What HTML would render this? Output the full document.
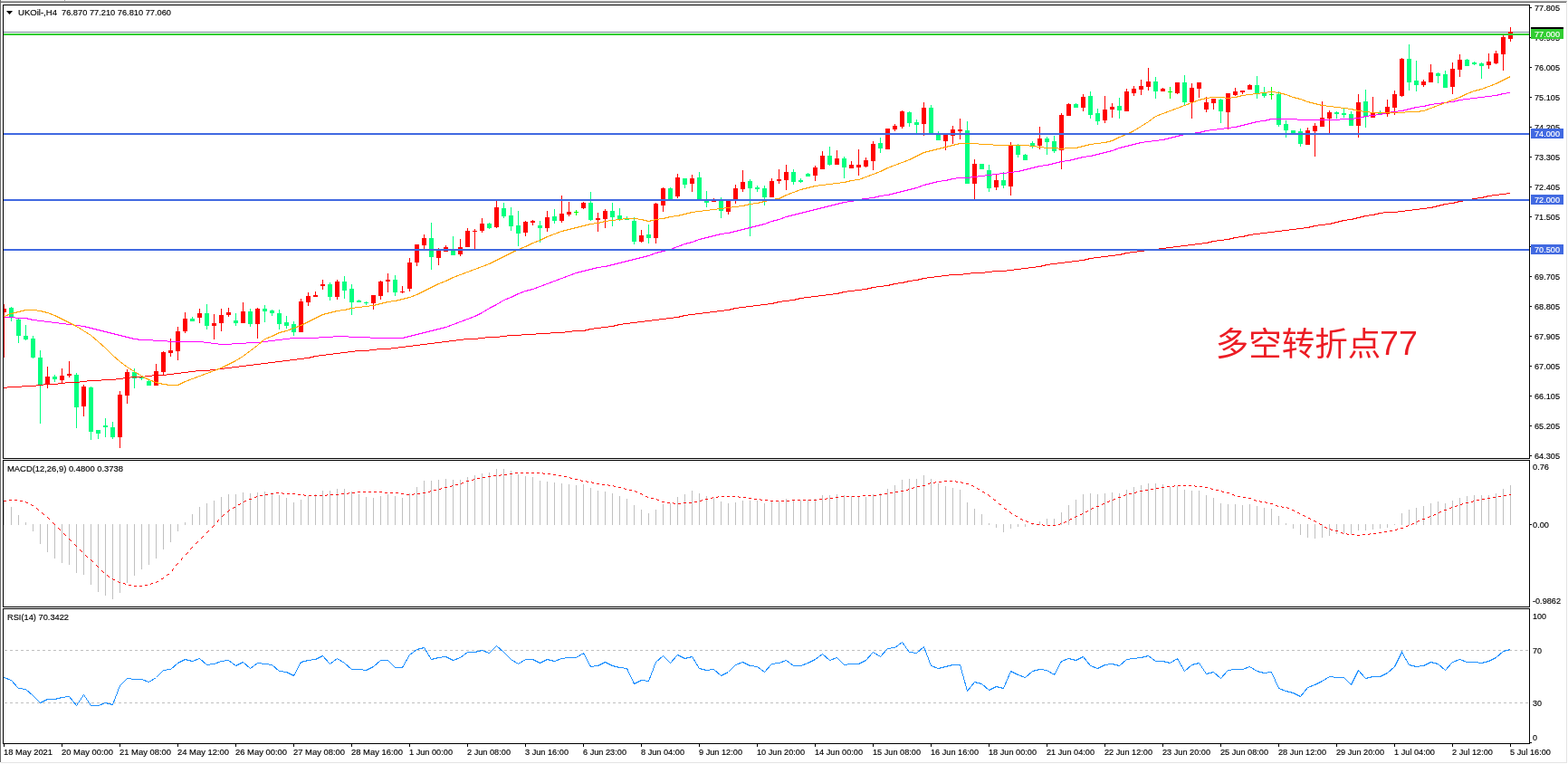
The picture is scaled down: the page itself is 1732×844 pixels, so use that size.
<!DOCTYPE html><html><head><meta charset="utf-8"><title>UKOil H4</title>
<style>html,body{margin:0;padding:0;background:#fff;overflow:hidden;}svg{display:block;} text{white-space:pre;}</style></head><body>
<svg width="1732" height="844" viewBox="0 0 1732 844">
<defs><clipPath id="cm"><rect x="4" y="6" width="1685" height="500"/></clipPath><clipPath id="cd"><rect x="4" y="509" width="1685" height="161"/></clipPath><clipPath id="cr"><rect x="4" y="673" width="1685" height="148"/></clipPath></defs>
<rect x="0" y="0" width="1732" height="844" fill="#ffffff"/>
<g shape-rendering="crispEdges">
<rect x="0" y="0" width="1731" height="1" fill="#f4f4f4"/>
<rect x="0" y="1" width="1731" height="1" fill="#a9a9a9"/>
<rect x="0" y="2" width="1730" height="1" fill="#6b6b6b"/>
<rect x="71" y="0" width="1" height="1" fill="#a0a0a0"/>
<rect x="0" y="0" width="1" height="842" fill="#6b6b6b"/>
<rect x="1730" y="2" width="1" height="841" fill="#e3e3e3"/>
<rect x="1" y="842" width="1730" height="1" fill="#e3e3e3"/>
<rect x="3" y="5" width="1687" height="1" fill="#000"/>
<rect x="3" y="506" width="1687" height="1" fill="#000"/>
<rect x="3" y="5" width="1" height="502" fill="#000"/>
<rect x="1689" y="5" width="1" height="502" fill="#000"/>
<rect x="3" y="508" width="1687" height="1" fill="#000"/>
<rect x="3" y="670" width="1687" height="1" fill="#000"/>
<rect x="3" y="508" width="1" height="163" fill="#000"/>
<rect x="1689" y="508" width="1" height="163" fill="#000"/>
<rect x="3" y="672" width="1687" height="1" fill="#000"/>
<rect x="3" y="821" width="1687" height="1" fill="#000"/>
<rect x="3" y="672" width="1" height="150" fill="#000"/>
<rect x="1689" y="672" width="1" height="150" fill="#000"/>
</g>
<g clip-path="url(#cm)" shape-rendering="crispEdges">
<rect x="4" y="35" width="1685" height="1" fill="#778899"/>
<rect x="4" y="336" width="1" height="59" fill="#ff0000"/>
<rect x="2" y="341" width="5" height="4" fill="#ff0000"/>
<rect x="12" y="339" width="1" height="16" fill="#00ff7f"/>
<rect x="10" y="340" width="5" height="10" fill="#00ff7f"/>
<rect x="20" y="352" width="1" height="27" fill="#00ff7f"/>
<rect x="18" y="353" width="5" height="18" fill="#00ff7f"/>
<rect x="28" y="359" width="1" height="17" fill="#00ff7f"/>
<rect x="26" y="371" width="5" height="4" fill="#00ff7f"/>
<rect x="36" y="371" width="1" height="25" fill="#00ff7f"/>
<rect x="34" y="374" width="5" height="21" fill="#00ff7f"/>
<rect x="44" y="387" width="1" height="81" fill="#00ff7f"/>
<rect x="42" y="395" width="5" height="31" fill="#00ff7f"/>
<rect x="52" y="405" width="1" height="24" fill="#ff0000"/>
<rect x="50" y="416" width="5" height="9" fill="#ff0000"/>
<rect x="60" y="414" width="1" height="8" fill="#00ff7f"/>
<rect x="58" y="416" width="5" height="3" fill="#00ff7f"/>
<rect x="68" y="407" width="1" height="17" fill="#ff0000"/>
<rect x="66" y="415" width="5" height="5" fill="#ff0000"/>
<rect x="76" y="399" width="1" height="18" fill="#ff0000"/>
<rect x="74" y="413" width="5" height="2" fill="#ff0000"/>
<rect x="84" y="412" width="1" height="61" fill="#00ff7f"/>
<rect x="82" y="414" width="5" height="36" fill="#00ff7f"/>
<rect x="92" y="425" width="1" height="35" fill="#ff0000"/>
<rect x="90" y="427" width="5" height="22" fill="#ff0000"/>
<rect x="100" y="427" width="1" height="59" fill="#00ff7f"/>
<rect x="98" y="428" width="5" height="49" fill="#00ff7f"/>
<rect x="108" y="475" width="1" height="10" fill="#00ff7f"/>
<rect x="106" y="475" width="5" height="4" fill="#00ff7f"/>
<rect x="116" y="462" width="1" height="21" fill="#00ff7f"/>
<rect x="114" y="470" width="5" height="2" fill="#00ff7f"/>
<rect x="124" y="466" width="1" height="19" fill="#00ff7f"/>
<rect x="122" y="472" width="5" height="11" fill="#00ff7f"/>
<rect x="132" y="432" width="1" height="63" fill="#ff0000"/>
<rect x="130" y="436" width="5" height="47" fill="#ff0000"/>
<rect x="140" y="408" width="1" height="38" fill="#ff0000"/>
<rect x="138" y="411" width="5" height="26" fill="#ff0000"/>
<rect x="148" y="407" width="1" height="22" fill="#00ff7f"/>
<rect x="146" y="411" width="5" height="7" fill="#00ff7f"/>
<rect x="156" y="416" width="1" height="4" fill="#00ff7f"/>
<rect x="154" y="416" width="5" height="2" fill="#00ff7f"/>
<rect x="164" y="420" width="1" height="6" fill="#00ff7f"/>
<rect x="162" y="421" width="5" height="5" fill="#00ff7f"/>
<rect x="172" y="402" width="1" height="24" fill="#ff0000"/>
<rect x="170" y="410" width="5" height="16" fill="#ff0000"/>
<rect x="180" y="388" width="1" height="26" fill="#ff0000"/>
<rect x="178" y="389" width="5" height="22" fill="#ff0000"/>
<rect x="188" y="374" width="1" height="20" fill="#ff0000"/>
<rect x="186" y="387" width="5" height="3" fill="#ff0000"/>
<rect x="196" y="361" width="1" height="37" fill="#ff0000"/>
<rect x="194" y="366" width="5" height="22" fill="#ff0000"/>
<rect x="204" y="345" width="1" height="23" fill="#ff0000"/>
<rect x="202" y="352" width="5" height="14" fill="#ff0000"/>
<rect x="212" y="350" width="1" height="5" fill="#00ff7f"/>
<rect x="210" y="352" width="5" height="3" fill="#00ff7f"/>
<rect x="220" y="341" width="1" height="16" fill="#ff0000"/>
<rect x="218" y="346" width="5" height="5" fill="#ff0000"/>
<rect x="228" y="336" width="1" height="28" fill="#00ff7f"/>
<rect x="226" y="346" width="5" height="14" fill="#00ff7f"/>
<rect x="236" y="347" width="1" height="28" fill="#ff0000"/>
<rect x="234" y="357" width="5" height="3" fill="#ff0000"/>
<rect x="244" y="341" width="1" height="25" fill="#ff0000"/>
<rect x="242" y="348" width="5" height="9" fill="#ff0000"/>
<rect x="252" y="340" width="1" height="10" fill="#ff0000"/>
<rect x="250" y="345" width="5" height="3" fill="#ff0000"/>
<rect x="260" y="346" width="1" height="14" fill="#00ff7f"/>
<rect x="258" y="354" width="5" height="3" fill="#00ff7f"/>
<rect x="268" y="334" width="1" height="23" fill="#ff0000"/>
<rect x="266" y="344" width="5" height="13" fill="#ff0000"/>
<rect x="276" y="341" width="1" height="20" fill="#00ff7f"/>
<rect x="274" y="344" width="5" height="14" fill="#00ff7f"/>
<rect x="284" y="340" width="1" height="34" fill="#ff0000"/>
<rect x="282" y="341" width="5" height="17" fill="#ff0000"/>
<rect x="292" y="337" width="1" height="19" fill="#00ff7f"/>
<rect x="290" y="341" width="5" height="3" fill="#00ff7f"/>
<rect x="300" y="342" width="1" height="7" fill="#00ff7f"/>
<rect x="298" y="343" width="5" height="3" fill="#00ff7f"/>
<rect x="308" y="342" width="1" height="22" fill="#00ff7f"/>
<rect x="306" y="346" width="5" height="12" fill="#00ff7f"/>
<rect x="316" y="349" width="1" height="14" fill="#00ff7f"/>
<rect x="314" y="356" width="5" height="4" fill="#00ff7f"/>
<rect x="324" y="355" width="1" height="16" fill="#00ff7f"/>
<rect x="322" y="358" width="5" height="9" fill="#00ff7f"/>
<rect x="332" y="330" width="1" height="37" fill="#ff0000"/>
<rect x="330" y="333" width="5" height="34" fill="#ff0000"/>
<rect x="340" y="323" width="1" height="15" fill="#ff0000"/>
<rect x="338" y="327" width="5" height="7" fill="#ff0000"/>
<rect x="348" y="322" width="1" height="6" fill="#ff0000"/>
<rect x="346" y="326" width="5" height="2" fill="#ff0000"/>
<rect x="356" y="309" width="1" height="11" fill="#ff0000"/>
<rect x="354" y="314" width="5" height="2" fill="#ff0000"/>
<rect x="364" y="312" width="1" height="20" fill="#00ff7f"/>
<rect x="362" y="314" width="5" height="14" fill="#00ff7f"/>
<rect x="372" y="309" width="1" height="22" fill="#ff0000"/>
<rect x="370" y="311" width="5" height="17" fill="#ff0000"/>
<rect x="380" y="305" width="1" height="25" fill="#00ff7f"/>
<rect x="378" y="311" width="5" height="10" fill="#00ff7f"/>
<rect x="388" y="314" width="1" height="34" fill="#00ff7f"/>
<rect x="386" y="319" width="5" height="15" fill="#00ff7f"/>
<rect x="396" y="331" width="1" height="3" fill="#00ff7f"/>
<rect x="394" y="332" width="5" height="2" fill="#00ff7f"/>
<rect x="404" y="333" width="1" height="4" fill="#00ff7f"/>
<rect x="402" y="334" width="5" height="1" fill="#00ff7f"/>
<rect x="412" y="326" width="1" height="16" fill="#ff0000"/>
<rect x="410" y="326" width="5" height="9" fill="#ff0000"/>
<rect x="420" y="310" width="1" height="21" fill="#ff0000"/>
<rect x="418" y="311" width="5" height="16" fill="#ff0000"/>
<rect x="428" y="302" width="1" height="21" fill="#ff0000"/>
<rect x="426" y="309" width="5" height="2" fill="#ff0000"/>
<rect x="436" y="304" width="1" height="23" fill="#00ff7f"/>
<rect x="434" y="309" width="5" height="14" fill="#00ff7f"/>
<rect x="444" y="316" width="1" height="8" fill="#ff0000"/>
<rect x="442" y="322" width="5" height="1" fill="#ff0000"/>
<rect x="452" y="285" width="1" height="37" fill="#ff0000"/>
<rect x="450" y="290" width="5" height="29" fill="#ff0000"/>
<rect x="460" y="270" width="1" height="24" fill="#ff0000"/>
<rect x="458" y="270" width="5" height="20" fill="#ff0000"/>
<rect x="468" y="259" width="1" height="16" fill="#ff0000"/>
<rect x="466" y="263" width="5" height="8" fill="#ff0000"/>
<rect x="476" y="246" width="1" height="52" fill="#00ff7f"/>
<rect x="474" y="263" width="5" height="21" fill="#00ff7f"/>
<rect x="484" y="274" width="1" height="19" fill="#ff0000"/>
<rect x="482" y="275" width="5" height="10" fill="#ff0000"/>
<rect x="492" y="271" width="1" height="7" fill="#ff0000"/>
<rect x="490" y="273" width="5" height="5" fill="#ff0000"/>
<rect x="500" y="261" width="1" height="21" fill="#00ff7f"/>
<rect x="498" y="277" width="5" height="5" fill="#00ff7f"/>
<rect x="508" y="264" width="1" height="19" fill="#ff0000"/>
<rect x="506" y="273" width="5" height="8" fill="#ff0000"/>
<rect x="516" y="252" width="1" height="21" fill="#ff0000"/>
<rect x="514" y="255" width="5" height="18" fill="#ff0000"/>
<rect x="524" y="253" width="1" height="22" fill="#ff0000"/>
<rect x="522" y="255" width="5" height="1" fill="#ff0000"/>
<rect x="532" y="241" width="1" height="16" fill="#ff0000"/>
<rect x="530" y="247" width="5" height="8" fill="#ff0000"/>
<rect x="540" y="246" width="1" height="7" fill="#00ff7f"/>
<rect x="538" y="247" width="5" height="5" fill="#00ff7f"/>
<rect x="548" y="222" width="1" height="30" fill="#ff0000"/>
<rect x="546" y="229" width="5" height="22" fill="#ff0000"/>
<rect x="556" y="224" width="1" height="17" fill="#00ff7f"/>
<rect x="554" y="230" width="5" height="9" fill="#00ff7f"/>
<rect x="564" y="229" width="1" height="26" fill="#00ff7f"/>
<rect x="562" y="238" width="5" height="12" fill="#00ff7f"/>
<rect x="572" y="233" width="1" height="39" fill="#00ff7f"/>
<rect x="570" y="249" width="5" height="9" fill="#00ff7f"/>
<rect x="580" y="244" width="1" height="17" fill="#ff0000"/>
<rect x="578" y="245" width="5" height="12" fill="#ff0000"/>
<rect x="588" y="243" width="1" height="6" fill="#ff0000"/>
<rect x="586" y="244" width="5" height="2" fill="#ff0000"/>
<rect x="596" y="244" width="1" height="24" fill="#00ff7f"/>
<rect x="594" y="249" width="5" height="3" fill="#00ff7f"/>
<rect x="604" y="233" width="1" height="23" fill="#ff0000"/>
<rect x="602" y="240" width="5" height="12" fill="#ff0000"/>
<rect x="612" y="231" width="1" height="16" fill="#00ff7f"/>
<rect x="610" y="239" width="5" height="5" fill="#00ff7f"/>
<rect x="620" y="216" width="1" height="30" fill="#ff0000"/>
<rect x="618" y="236" width="5" height="8" fill="#ff0000"/>
<rect x="628" y="223" width="1" height="16" fill="#ff0000"/>
<rect x="626" y="234" width="5" height="3" fill="#ff0000"/>
<rect x="636" y="232" width="1" height="6" fill="#00ff00"/>
<rect x="634" y="234" width="5" height="1" fill="#00ff00"/>
<rect x="644" y="223" width="1" height="8" fill="#ff0000"/>
<rect x="642" y="224" width="5" height="6" fill="#ff0000"/>
<rect x="652" y="212" width="1" height="32" fill="#00ff7f"/>
<rect x="650" y="224" width="5" height="19" fill="#00ff7f"/>
<rect x="660" y="235" width="1" height="21" fill="#ff0000"/>
<rect x="658" y="241" width="5" height="2" fill="#ff0000"/>
<rect x="668" y="231" width="1" height="21" fill="#ff0000"/>
<rect x="666" y="233" width="5" height="9" fill="#ff0000"/>
<rect x="676" y="224" width="1" height="26" fill="#00ff7f"/>
<rect x="674" y="233" width="5" height="7" fill="#00ff7f"/>
<rect x="684" y="230" width="1" height="14" fill="#00ff7f"/>
<rect x="682" y="238" width="5" height="4" fill="#00ff7f"/>
<rect x="692" y="239" width="1" height="4" fill="#00ff7f"/>
<rect x="690" y="241" width="5" height="2" fill="#00ff7f"/>
<rect x="700" y="240" width="1" height="30" fill="#00ff7f"/>
<rect x="698" y="244" width="5" height="23" fill="#00ff7f"/>
<rect x="708" y="254" width="1" height="14" fill="#ff0000"/>
<rect x="706" y="260" width="5" height="7" fill="#ff0000"/>
<rect x="716" y="248" width="1" height="21" fill="#00ff7f"/>
<rect x="714" y="259" width="5" height="4" fill="#00ff7f"/>
<rect x="724" y="224" width="1" height="45" fill="#ff0000"/>
<rect x="722" y="225" width="5" height="38" fill="#ff0000"/>
<rect x="732" y="207" width="1" height="27" fill="#ff0000"/>
<rect x="730" y="208" width="5" height="19" fill="#ff0000"/>
<rect x="740" y="207" width="1" height="15" fill="#00ff7f"/>
<rect x="738" y="208" width="5" height="14" fill="#00ff7f"/>
<rect x="748" y="192" width="1" height="27" fill="#ff0000"/>
<rect x="746" y="196" width="5" height="21" fill="#ff0000"/>
<rect x="756" y="197" width="1" height="11" fill="#00ff7f"/>
<rect x="754" y="197" width="5" height="7" fill="#00ff7f"/>
<rect x="764" y="193" width="1" height="19" fill="#ff0000"/>
<rect x="762" y="197" width="5" height="6" fill="#ff0000"/>
<rect x="772" y="190" width="1" height="32" fill="#00ff7f"/>
<rect x="770" y="196" width="5" height="26" fill="#00ff7f"/>
<rect x="780" y="211" width="1" height="18" fill="#00ff7f"/>
<rect x="778" y="222" width="5" height="2" fill="#00ff7f"/>
<rect x="788" y="219" width="1" height="4" fill="#ff0000"/>
<rect x="786" y="221" width="5" height="2" fill="#ff0000"/>
<rect x="796" y="218" width="1" height="23" fill="#00ff7f"/>
<rect x="794" y="221" width="5" height="12" fill="#00ff7f"/>
<rect x="804" y="221" width="1" height="16" fill="#ff0000"/>
<rect x="802" y="222" width="5" height="12" fill="#ff0000"/>
<rect x="812" y="204" width="1" height="21" fill="#ff0000"/>
<rect x="810" y="208" width="5" height="14" fill="#ff0000"/>
<rect x="820" y="188" width="1" height="24" fill="#ff0000"/>
<rect x="818" y="201" width="5" height="8" fill="#ff0000"/>
<rect x="828" y="198" width="1" height="63" fill="#00ff7f"/>
<rect x="826" y="200" width="5" height="8" fill="#00ff7f"/>
<rect x="836" y="205" width="1" height="7" fill="#00ff7f"/>
<rect x="834" y="207" width="5" height="2" fill="#00ff7f"/>
<rect x="844" y="205" width="1" height="22" fill="#00ff7f"/>
<rect x="842" y="208" width="5" height="10" fill="#00ff7f"/>
<rect x="852" y="197" width="1" height="21" fill="#ff0000"/>
<rect x="850" y="200" width="5" height="18" fill="#ff0000"/>
<rect x="860" y="187" width="1" height="16" fill="#ff0000"/>
<rect x="858" y="198" width="5" height="2" fill="#ff0000"/>
<rect x="868" y="182" width="1" height="28" fill="#ff0000"/>
<rect x="866" y="190" width="5" height="9" fill="#ff0000"/>
<rect x="876" y="187" width="1" height="17" fill="#00ff7f"/>
<rect x="874" y="190" width="5" height="11" fill="#00ff7f"/>
<rect x="884" y="197" width="1" height="5" fill="#00ff7f"/>
<rect x="882" y="199" width="5" height="2" fill="#00ff7f"/>
<rect x="892" y="191" width="1" height="4" fill="#00ff7f"/>
<rect x="890" y="192" width="5" height="3" fill="#00ff7f"/>
<rect x="900" y="183" width="1" height="17" fill="#ff0000"/>
<rect x="898" y="185" width="5" height="9" fill="#ff0000"/>
<rect x="908" y="167" width="1" height="20" fill="#ff0000"/>
<rect x="906" y="172" width="5" height="15" fill="#ff0000"/>
<rect x="916" y="162" width="1" height="21" fill="#00ff7f"/>
<rect x="914" y="172" width="5" height="10" fill="#00ff7f"/>
<rect x="924" y="166" width="1" height="16" fill="#ff0000"/>
<rect x="922" y="175" width="5" height="7" fill="#ff0000"/>
<rect x="932" y="173" width="1" height="24" fill="#00ff7f"/>
<rect x="930" y="175" width="5" height="10" fill="#00ff7f"/>
<rect x="940" y="178" width="1" height="8" fill="#ff0000"/>
<rect x="938" y="182" width="5" height="4" fill="#ff0000"/>
<rect x="948" y="165" width="1" height="29" fill="#ff0000"/>
<rect x="946" y="182" width="5" height="3" fill="#ff0000"/>
<rect x="956" y="174" width="1" height="11" fill="#ff0000"/>
<rect x="954" y="177" width="5" height="7" fill="#ff0000"/>
<rect x="964" y="156" width="1" height="32" fill="#ff0000"/>
<rect x="962" y="159" width="5" height="19" fill="#ff0000"/>
<rect x="972" y="152" width="1" height="17" fill="#00ff7f"/>
<rect x="970" y="158" width="5" height="6" fill="#00ff7f"/>
<rect x="980" y="142" width="1" height="23" fill="#ff0000"/>
<rect x="978" y="142" width="5" height="23" fill="#ff0000"/>
<rect x="988" y="137" width="1" height="8" fill="#ff0000"/>
<rect x="986" y="139" width="5" height="4" fill="#ff0000"/>
<rect x="996" y="122" width="1" height="20" fill="#ff0000"/>
<rect x="994" y="123" width="5" height="17" fill="#ff0000"/>
<rect x="1004" y="123" width="1" height="17" fill="#00ff7f"/>
<rect x="1002" y="124" width="5" height="12" fill="#00ff7f"/>
<rect x="1012" y="132" width="1" height="15" fill="#00ff7f"/>
<rect x="1010" y="135" width="5" height="3" fill="#00ff7f"/>
<rect x="1020" y="113" width="1" height="37" fill="#ff0000"/>
<rect x="1018" y="119" width="5" height="18" fill="#ff0000"/>
<rect x="1028" y="116" width="1" height="32" fill="#00ff7f"/>
<rect x="1026" y="119" width="5" height="28" fill="#00ff7f"/>
<rect x="1036" y="145" width="1" height="10" fill="#00ff7f"/>
<rect x="1034" y="149" width="5" height="6" fill="#00ff7f"/>
<rect x="1044" y="148" width="1" height="18" fill="#ff0000"/>
<rect x="1042" y="149" width="5" height="7" fill="#ff0000"/>
<rect x="1052" y="139" width="1" height="20" fill="#ff0000"/>
<rect x="1050" y="143" width="5" height="7" fill="#ff0000"/>
<rect x="1060" y="131" width="1" height="23" fill="#ff0000"/>
<rect x="1058" y="143" width="5" height="2" fill="#ff0000"/>
<rect x="1068" y="134" width="1" height="69" fill="#00ff7f"/>
<rect x="1066" y="144" width="5" height="59" fill="#00ff7f"/>
<rect x="1076" y="176" width="1" height="44" fill="#ff0000"/>
<rect x="1074" y="181" width="5" height="22" fill="#ff0000"/>
<rect x="1084" y="181" width="1" height="6" fill="#00ff7f"/>
<rect x="1082" y="181" width="5" height="6" fill="#00ff7f"/>
<rect x="1092" y="182" width="1" height="30" fill="#00ff7f"/>
<rect x="1090" y="188" width="5" height="20" fill="#00ff7f"/>
<rect x="1100" y="192" width="1" height="18" fill="#ff0000"/>
<rect x="1098" y="199" width="5" height="8" fill="#ff0000"/>
<rect x="1108" y="190" width="1" height="18" fill="#00ff7f"/>
<rect x="1106" y="199" width="5" height="6" fill="#00ff7f"/>
<rect x="1116" y="157" width="1" height="59" fill="#ff0000"/>
<rect x="1114" y="160" width="5" height="46" fill="#ff0000"/>
<rect x="1124" y="159" width="1" height="15" fill="#00ff7f"/>
<rect x="1122" y="160" width="5" height="11" fill="#00ff7f"/>
<rect x="1132" y="170" width="1" height="7" fill="#00ff7f"/>
<rect x="1130" y="171" width="5" height="6" fill="#00ff7f"/>
<rect x="1140" y="156" width="1" height="8" fill="#00ff7f"/>
<rect x="1138" y="158" width="5" height="4" fill="#00ff7f"/>
<rect x="1148" y="140" width="1" height="25" fill="#ff0000"/>
<rect x="1146" y="153" width="5" height="8" fill="#ff0000"/>
<rect x="1156" y="151" width="1" height="20" fill="#00ff7f"/>
<rect x="1154" y="153" width="5" height="4" fill="#00ff7f"/>
<rect x="1164" y="150" width="1" height="19" fill="#00ff7f"/>
<rect x="1162" y="156" width="5" height="11" fill="#00ff7f"/>
<rect x="1172" y="125" width="1" height="62" fill="#ff0000"/>
<rect x="1170" y="127" width="5" height="39" fill="#ff0000"/>
<rect x="1180" y="114" width="1" height="14" fill="#ff0000"/>
<rect x="1178" y="115" width="5" height="13" fill="#ff0000"/>
<rect x="1188" y="114" width="1" height="5" fill="#00ff7f"/>
<rect x="1186" y="115" width="5" height="4" fill="#00ff7f"/>
<rect x="1196" y="104" width="1" height="19" fill="#ff0000"/>
<rect x="1194" y="107" width="5" height="12" fill="#ff0000"/>
<rect x="1204" y="101" width="1" height="30" fill="#00ff7f"/>
<rect x="1202" y="106" width="5" height="21" fill="#00ff7f"/>
<rect x="1212" y="120" width="1" height="18" fill="#00ff7f"/>
<rect x="1210" y="125" width="5" height="9" fill="#00ff7f"/>
<rect x="1220" y="106" width="1" height="30" fill="#ff0000"/>
<rect x="1218" y="121" width="5" height="12" fill="#ff0000"/>
<rect x="1228" y="114" width="1" height="16" fill="#ff0000"/>
<rect x="1226" y="118" width="5" height="3" fill="#ff0000"/>
<rect x="1236" y="108" width="1" height="23" fill="#00ff7f"/>
<rect x="1234" y="117" width="5" height="5" fill="#00ff7f"/>
<rect x="1244" y="98" width="1" height="25" fill="#ff0000"/>
<rect x="1242" y="101" width="5" height="22" fill="#ff0000"/>
<rect x="1252" y="95" width="1" height="11" fill="#ff0000"/>
<rect x="1250" y="98" width="5" height="5" fill="#ff0000"/>
<rect x="1260" y="88" width="1" height="17" fill="#ff0000"/>
<rect x="1258" y="95" width="5" height="4" fill="#ff0000"/>
<rect x="1268" y="75" width="1" height="25" fill="#ff0000"/>
<rect x="1266" y="90" width="5" height="6" fill="#ff0000"/>
<rect x="1276" y="85" width="1" height="24" fill="#00ff7f"/>
<rect x="1274" y="90" width="5" height="11" fill="#00ff7f"/>
<rect x="1284" y="97" width="1" height="4" fill="#ff0000"/>
<rect x="1282" y="98" width="5" height="3" fill="#ff0000"/>
<rect x="1292" y="96" width="1" height="13" fill="#00ff00"/>
<rect x="1290" y="101" width="5" height="1" fill="#00ff00"/>
<rect x="1300" y="91" width="1" height="13" fill="#ff0000"/>
<rect x="1298" y="91" width="5" height="12" fill="#ff0000"/>
<rect x="1308" y="83" width="1" height="34" fill="#00ff7f"/>
<rect x="1306" y="91" width="5" height="22" fill="#00ff7f"/>
<rect x="1316" y="92" width="1" height="39" fill="#ff0000"/>
<rect x="1314" y="97" width="5" height="16" fill="#ff0000"/>
<rect x="1324" y="91" width="1" height="17" fill="#ff0000"/>
<rect x="1322" y="91" width="5" height="7" fill="#ff0000"/>
<rect x="1332" y="107" width="1" height="17" fill="#ff0000"/>
<rect x="1330" y="113" width="5" height="8" fill="#ff0000"/>
<rect x="1340" y="109" width="1" height="12" fill="#ff0000"/>
<rect x="1338" y="109" width="5" height="5" fill="#ff0000"/>
<rect x="1348" y="109" width="1" height="27" fill="#00ff7f"/>
<rect x="1346" y="110" width="5" height="13" fill="#00ff7f"/>
<rect x="1356" y="103" width="1" height="40" fill="#ff0000"/>
<rect x="1354" y="103" width="5" height="21" fill="#ff0000"/>
<rect x="1364" y="97" width="1" height="9" fill="#ff0000"/>
<rect x="1362" y="101" width="5" height="4" fill="#ff0000"/>
<rect x="1372" y="100" width="1" height="4" fill="#ff0000"/>
<rect x="1370" y="100" width="5" height="2" fill="#ff0000"/>
<rect x="1380" y="93" width="1" height="6" fill="#ff0000"/>
<rect x="1378" y="94" width="5" height="5" fill="#ff0000"/>
<rect x="1388" y="84" width="1" height="25" fill="#00ff7f"/>
<rect x="1386" y="94" width="5" height="10" fill="#00ff7f"/>
<rect x="1396" y="96" width="1" height="12" fill="#00ff7f"/>
<rect x="1394" y="102" width="5" height="4" fill="#00ff7f"/>
<rect x="1404" y="96" width="1" height="14" fill="#00ff00"/>
<rect x="1402" y="104" width="5" height="1" fill="#00ff00"/>
<rect x="1412" y="101" width="1" height="39" fill="#00ff7f"/>
<rect x="1410" y="104" width="5" height="34" fill="#00ff7f"/>
<rect x="1420" y="133" width="1" height="19" fill="#00ff7f"/>
<rect x="1418" y="137" width="5" height="7" fill="#00ff7f"/>
<rect x="1428" y="144" width="1" height="5" fill="#00ff7f"/>
<rect x="1426" y="144" width="5" height="5" fill="#00ff7f"/>
<rect x="1436" y="142" width="1" height="20" fill="#00ff7f"/>
<rect x="1434" y="145" width="5" height="14" fill="#00ff7f"/>
<rect x="1444" y="141" width="1" height="19" fill="#ff0000"/>
<rect x="1442" y="144" width="5" height="16" fill="#ff0000"/>
<rect x="1452" y="136" width="1" height="37" fill="#ff0000"/>
<rect x="1450" y="139" width="5" height="6" fill="#ff0000"/>
<rect x="1460" y="112" width="1" height="28" fill="#ff0000"/>
<rect x="1458" y="130" width="5" height="10" fill="#ff0000"/>
<rect x="1468" y="122" width="1" height="26" fill="#ff0000"/>
<rect x="1466" y="124" width="5" height="7" fill="#ff0000"/>
<rect x="1476" y="123" width="1" height="8" fill="#00ff7f"/>
<rect x="1474" y="124" width="5" height="2" fill="#00ff7f"/>
<rect x="1484" y="119" width="1" height="11" fill="#00ff7f"/>
<rect x="1482" y="125" width="5" height="2" fill="#00ff7f"/>
<rect x="1492" y="123" width="1" height="16" fill="#00ff7f"/>
<rect x="1490" y="126" width="5" height="13" fill="#00ff7f"/>
<rect x="1500" y="104" width="1" height="48" fill="#ff0000"/>
<rect x="1498" y="113" width="5" height="26" fill="#ff0000"/>
<rect x="1508" y="99" width="1" height="42" fill="#00ff7f"/>
<rect x="1506" y="112" width="5" height="17" fill="#00ff7f"/>
<rect x="1516" y="107" width="1" height="23" fill="#ff0000"/>
<rect x="1514" y="125" width="5" height="5" fill="#ff0000"/>
<rect x="1524" y="122" width="1" height="5" fill="#00ff7f"/>
<rect x="1522" y="124" width="5" height="2" fill="#00ff7f"/>
<rect x="1532" y="110" width="1" height="19" fill="#ff0000"/>
<rect x="1530" y="118" width="5" height="8" fill="#ff0000"/>
<rect x="1540" y="100" width="1" height="27" fill="#ff0000"/>
<rect x="1538" y="104" width="5" height="15" fill="#ff0000"/>
<rect x="1548" y="64" width="1" height="43" fill="#ff0000"/>
<rect x="1546" y="65" width="5" height="41" fill="#ff0000"/>
<rect x="1556" y="49" width="1" height="51" fill="#00ff7f"/>
<rect x="1554" y="65" width="5" height="26" fill="#00ff7f"/>
<rect x="1564" y="67" width="1" height="34" fill="#00ff7f"/>
<rect x="1562" y="89" width="5" height="5" fill="#00ff7f"/>
<rect x="1572" y="88" width="1" height="8" fill="#ff0000"/>
<rect x="1570" y="90" width="5" height="4" fill="#ff0000"/>
<rect x="1580" y="71" width="1" height="20" fill="#ff0000"/>
<rect x="1578" y="80" width="5" height="11" fill="#ff0000"/>
<rect x="1588" y="80" width="1" height="12" fill="#00ff7f"/>
<rect x="1586" y="81" width="5" height="3" fill="#00ff7f"/>
<rect x="1596" y="78" width="1" height="19" fill="#00ff7f"/>
<rect x="1594" y="82" width="5" height="15" fill="#00ff7f"/>
<rect x="1604" y="69" width="1" height="35" fill="#ff0000"/>
<rect x="1602" y="76" width="5" height="20" fill="#ff0000"/>
<rect x="1612" y="60" width="1" height="25" fill="#ff0000"/>
<rect x="1610" y="66" width="5" height="11" fill="#ff0000"/>
<rect x="1620" y="65" width="1" height="8" fill="#00ff7f"/>
<rect x="1618" y="66" width="5" height="7" fill="#00ff7f"/>
<rect x="1628" y="68" width="1" height="4" fill="#00ff7f"/>
<rect x="1626" y="69" width="5" height="2" fill="#00ff7f"/>
<rect x="1636" y="69" width="1" height="18" fill="#00ff7f"/>
<rect x="1634" y="70" width="5" height="3" fill="#00ff7f"/>
<rect x="1644" y="59" width="1" height="17" fill="#ff0000"/>
<rect x="1642" y="68" width="5" height="4" fill="#ff0000"/>
<rect x="1652" y="56" width="1" height="15" fill="#ff0000"/>
<rect x="1650" y="59" width="5" height="11" fill="#ff0000"/>
<rect x="1660" y="39" width="1" height="39" fill="#ff0000"/>
<rect x="1658" y="41" width="5" height="19" fill="#ff0000"/>
<rect x="1668" y="30" width="1" height="16" fill="#ff0000"/>
<rect x="1666" y="35" width="5" height="8" fill="#ff0000"/>
<polyline points="4.5,428.5 12.5,427.5 20.5,427.5 28.5,426.5 36.5,426.5 44.5,425.5 52.5,424.5 60.5,424.5 68.5,423.5 76.5,422.5 84.5,422.5 92.5,421.5 100.5,420.5 108.5,420.5 116.5,419.5 124.5,419.5 132.5,418.5 140.5,417.5 148.5,416.5 156.5,416.5 164.5,415.5 172.5,414.5 180.5,414.5 188.5,413.5 196.5,412.5 204.5,411.5 212.5,410.5 220.5,409.5 228.5,409.5 236.5,408.5 244.5,407.5 252.5,406.5 260.5,405.5 268.5,404.5 276.5,403.5 284.5,402.5 292.5,401.5 300.5,400.5 308.5,399.5 316.5,398.5 324.5,397.5 332.5,396.5 340.5,395.5 348.5,393.5 356.5,392.5 364.5,391.5 372.5,390.5 380.5,389.5 388.5,388.5 396.5,387.5 404.5,387.5 412.5,386.5 420.5,385.5 428.5,385.5 436.5,384.5 444.5,383.5 452.5,382.5 460.5,381.5 468.5,380.5 476.5,379.5 484.5,378.5 492.5,377.5 500.5,376.5 508.5,375.5 516.5,374.5 524.5,374.5 532.5,373.5 540.5,372.5 548.5,372.5 556.5,371.5 564.5,370.5 572.5,370.5 580.5,369.5 588.5,369.5 596.5,368.5 604.5,368.5 612.5,367.5 620.5,367.5 628.5,366.5 636.5,365.5 644.5,365.5 652.5,363.5 660.5,362.5 668.5,361.5 676.5,360.5 684.5,358.5 692.5,357.5 700.5,356.5 708.5,355.5 716.5,354.5 724.5,353.5 732.5,352.5 740.5,351.5 748.5,350.5 756.5,348.5 764.5,347.5 772.5,346.5 780.5,345.5 788.5,344.5 796.5,343.5 804.5,342.5 812.5,340.5 820.5,339.5 828.5,338.5 836.5,337.5 844.5,336.5 852.5,335.5 860.5,333.5 868.5,332.5 876.5,331.5 884.5,329.5 892.5,328.5 900.5,327.5 908.5,326.5 916.5,325.5 924.5,324.5 932.5,322.5 940.5,321.5 948.5,320.5 956.5,319.5 964.5,317.5 972.5,316.5 980.5,315.5 988.5,313.5 996.5,312.5 1004.5,310.5 1012.5,309.5 1020.5,307.5 1028.5,306.5 1036.5,305.5 1044.5,304.5 1052.5,303.5 1060.5,303.5 1068.5,302.5 1076.5,301.5 1084.5,301.5 1092.5,300.5 1100.5,299.5 1108.5,299.5 1116.5,298.5 1124.5,297.5 1132.5,296.5 1140.5,295.5 1148.5,294.5 1156.5,292.5 1164.5,291.5 1172.5,290.5 1180.5,289.5 1188.5,288.5 1196.5,287.5 1204.5,285.5 1212.5,284.5 1220.5,283.5 1228.5,282.5 1236.5,281.5 1244.5,279.5 1252.5,278.5 1260.5,277.5 1268.5,276.5 1276.5,275.5 1284.5,274.5 1292.5,273.5 1300.5,272.5 1308.5,271.5 1316.5,270.5 1324.5,269.5 1332.5,268.5 1340.5,266.5 1348.5,265.5 1356.5,264.5 1364.5,262.5 1372.5,261.5 1380.5,259.5 1388.5,258.5 1396.5,257.5 1404.5,256.5 1412.5,255.5 1420.5,254.5 1428.5,253.5 1436.5,252.5 1444.5,251.5 1452.5,249.5 1460.5,248.5 1468.5,247.5 1476.5,245.5 1484.5,243.5 1492.5,242.5 1500.5,240.5 1508.5,238.5 1516.5,237.5 1524.5,235.5 1532.5,234.5 1540.5,234.5 1548.5,233.5 1556.5,232.5 1564.5,231.5 1572.5,230.5 1580.5,229.5 1588.5,227.5 1596.5,225.5 1604.5,224.5 1612.5,222.5 1620.5,221.5 1628.5,219.5 1636.5,218.5 1644.5,216.5 1652.5,215.5 1660.5,214.5 1668.5,213.5" fill="none" stroke="#ff0000" stroke-width="1"/>
<polyline points="4.5,350.5 12.5,350.5 20.5,351.5 28.5,351.5 36.5,353.5 44.5,354.5 52.5,355.5 60.5,356.5 68.5,357.5 76.5,358.5 84.5,359.5 92.5,360.5 100.5,362.5 108.5,364.5 116.5,366.5 124.5,368.5 132.5,370.5 140.5,372.5 148.5,374.5 156.5,375.5 164.5,375.5 172.5,376.5 180.5,376.5 188.5,377.5 196.5,377.5 204.5,377.5 212.5,377.5 220.5,377.5 228.5,378.5 236.5,379.5 244.5,380.5 252.5,380.5 260.5,379.5 268.5,379.5 276.5,378.5 284.5,378.5 292.5,377.5 300.5,376.5 308.5,375.5 316.5,374.5 324.5,373.5 332.5,373.5 340.5,373.5 348.5,373.5 356.5,372.5 364.5,372.5 372.5,371.5 380.5,371.5 388.5,372.5 396.5,372.5 404.5,372.5 412.5,373.5 420.5,373.5 428.5,373.5 436.5,373.5 444.5,373.5 452.5,371.5 460.5,369.5 468.5,367.5 476.5,365.5 484.5,363.5 492.5,361.5 500.5,358.5 508.5,355.5 516.5,352.5 524.5,349.5 532.5,345.5 540.5,340.5 548.5,336.5 556.5,331.5 564.5,328.5 572.5,324.5 580.5,321.5 588.5,319.5 596.5,316.5 604.5,313.5 612.5,310.5 620.5,307.5 628.5,304.5 636.5,301.5 644.5,299.5 652.5,297.5 660.5,295.5 668.5,294.5 676.5,292.5 684.5,290.5 692.5,288.5 700.5,286.5 708.5,284.5 716.5,282.5 724.5,279.5 732.5,277.5 740.5,275.5 748.5,272.5 756.5,269.5 764.5,267.5 772.5,264.5 780.5,262.5 788.5,260.5 796.5,258.5 804.5,257.5 812.5,255.5 820.5,253.5 828.5,251.5 836.5,249.5 844.5,247.5 852.5,244.5 860.5,242.5 868.5,239.5 876.5,237.5 884.5,235.5 892.5,233.5 900.5,231.5 908.5,229.5 916.5,227.5 924.5,225.5 932.5,223.5 940.5,222.5 948.5,220.5 956.5,219.5 964.5,218.5 972.5,216.5 980.5,215.5 988.5,213.5 996.5,211.5 1004.5,209.5 1012.5,207.5 1020.5,204.5 1028.5,202.5 1036.5,200.5 1044.5,199.5 1052.5,197.5 1060.5,196.5 1068.5,196.5 1076.5,195.5 1084.5,194.5 1092.5,193.5 1100.5,192.5 1108.5,191.5 1116.5,190.5 1124.5,189.5 1132.5,187.5 1140.5,185.5 1148.5,183.5 1156.5,182.5 1164.5,180.5 1172.5,178.5 1180.5,177.5 1188.5,175.5 1196.5,173.5 1204.5,172.5 1212.5,170.5 1220.5,168.5 1228.5,166.5 1236.5,163.5 1244.5,161.5 1252.5,159.5 1260.5,157.5 1268.5,156.5 1276.5,155.5 1284.5,154.5 1292.5,152.5 1300.5,150.5 1308.5,148.5 1316.5,147.5 1324.5,146.5 1332.5,144.5 1340.5,143.5 1348.5,142.5 1356.5,141.5 1364.5,140.5 1372.5,138.5 1380.5,136.5 1388.5,134.5 1396.5,133.5 1404.5,131.5 1412.5,131.5 1420.5,131.5 1428.5,131.5 1436.5,132.5 1444.5,132.5 1452.5,132.5 1460.5,132.5 1468.5,132.5 1476.5,132.5 1484.5,131.5 1492.5,131.5 1500.5,130.5 1508.5,128.5 1516.5,127.5 1524.5,126.5 1532.5,124.5 1540.5,123.5 1548.5,122.5 1556.5,120.5 1564.5,118.5 1572.5,117.5 1580.5,115.5 1588.5,114.5 1596.5,113.5 1604.5,112.5 1612.5,110.5 1620.5,109.5 1628.5,108.5 1636.5,107.5 1644.5,106.5 1652.5,105.5 1660.5,103.5 1668.5,102.5" fill="none" stroke="#ff00ff" stroke-width="1"/>
<polyline points="4.5,349.5 12.5,346.5 20.5,344.5 28.5,342.5 36.5,342.5 44.5,343.5 52.5,345.5 60.5,348.5 68.5,352.5 76.5,356.5 84.5,360.5 92.5,365.5 100.5,370.5 108.5,377.5 116.5,384.5 124.5,392.5 132.5,399.5 140.5,405.5 148.5,410.5 156.5,415.5 164.5,419.5 172.5,422.5 180.5,424.5 188.5,425.5 196.5,425.5 204.5,421.5 212.5,418.5 220.5,415.5 228.5,412.5 236.5,409.5 244.5,406.5 252.5,402.5 260.5,398.5 268.5,393.5 276.5,387.5 284.5,381.5 292.5,374.5 300.5,371.5 308.5,367.5 316.5,365.5 324.5,362.5 332.5,359.5 340.5,355.5 348.5,351.5 356.5,347.5 364.5,345.5 372.5,343.5 380.5,342.5 388.5,340.5 396.5,339.5 404.5,338.5 412.5,337.5 420.5,335.5 428.5,333.5 436.5,332.5 444.5,330.5 452.5,328.5 460.5,325.5 468.5,321.5 476.5,317.5 484.5,313.5 492.5,310.5 500.5,306.5 508.5,303.5 516.5,300.5 524.5,297.5 532.5,294.5 540.5,291.5 548.5,287.5 556.5,283.5 564.5,279.5 572.5,275.5 580.5,272.5 588.5,268.5 596.5,265.5 604.5,261.5 612.5,258.5 620.5,255.5 628.5,253.5 636.5,251.5 644.5,249.5 652.5,247.5 660.5,246.5 668.5,244.5 676.5,243.5 684.5,242.5 692.5,241.5 700.5,241.5 708.5,242.5 716.5,244.5 724.5,242.5 732.5,241.5 740.5,239.5 748.5,238.5 756.5,236.5 764.5,234.5 772.5,233.5 780.5,232.5 788.5,231.5 796.5,230.5 804.5,229.5 812.5,228.5 820.5,227.5 828.5,225.5 836.5,224.5 844.5,222.5 852.5,220.5 860.5,219.5 868.5,215.5 876.5,212.5 884.5,209.5 892.5,207.5 900.5,205.5 908.5,204.5 916.5,203.5 924.5,202.5 932.5,201.5 940.5,199.5 948.5,198.5 956.5,195.5 964.5,192.5 972.5,189.5 980.5,185.5 988.5,182.5 996.5,179.5 1004.5,176.5 1012.5,172.5 1020.5,168.5 1028.5,166.5 1036.5,164.5 1044.5,162.5 1052.5,160.5 1060.5,158.5 1068.5,158.5 1076.5,158.5 1084.5,159.5 1092.5,159.5 1100.5,160.5 1108.5,160.5 1116.5,160.5 1124.5,160.5 1132.5,160.5 1140.5,161.5 1148.5,162.5 1156.5,163.5 1164.5,163.5 1172.5,164.5 1180.5,163.5 1188.5,163.5 1196.5,161.5 1204.5,159.5 1212.5,158.5 1220.5,157.5 1228.5,155.5 1236.5,151.5 1244.5,148.5 1252.5,144.5 1260.5,139.5 1268.5,134.5 1276.5,128.5 1284.5,125.5 1292.5,122.5 1300.5,119.5 1308.5,116.5 1316.5,113.5 1324.5,110.5 1332.5,108.5 1340.5,107.5 1348.5,107.5 1356.5,108.5 1364.5,107.5 1372.5,105.5 1380.5,104.5 1388.5,103.5 1396.5,102.5 1404.5,101.5 1412.5,102.5 1420.5,104.5 1428.5,107.5 1436.5,109.5 1444.5,112.5 1452.5,114.5 1460.5,116.5 1468.5,117.5 1476.5,118.5 1484.5,119.5 1492.5,120.5 1500.5,122.5 1508.5,123.5 1516.5,124.5 1524.5,124.5 1532.5,124.5 1540.5,124.5 1548.5,124.5 1556.5,123.5 1564.5,123.5 1572.5,122.5 1580.5,119.5 1588.5,116.5 1596.5,113.5 1604.5,110.5 1612.5,107.5 1620.5,103.5 1628.5,100.5 1636.5,98.5 1644.5,95.5 1652.5,92.5 1660.5,88.5 1668.5,84.5" fill="none" stroke="#ffa500" stroke-width="1"/>
<rect x="4" y="37" width="1685" height="2" fill="#32cd32"/>
<rect x="4" y="147" width="1685" height="2" fill="#4169e1"/>
<rect x="4" y="220" width="1685" height="2" fill="#4169e1"/>
<rect x="4" y="275" width="1685" height="2" fill="#4169e1"/>
</g>
<path d="M7 12 L14 12 L10.5 16 Z" fill="#000"/>
<text x="20" y="16.5" font-size="9.6" fill="#000" font-family="'Liberation Sans', Arial, sans-serif" stroke="#000" stroke-width="0.15" textLength="43" lengthAdjust="spacingAndGlyphs" >UKOil-,H4</text>
<text x="68" y="16.5" font-size="9.6" fill="#000" font-family="'Liberation Sans', Arial, sans-serif" stroke="#000" stroke-width="0.15" textLength="121" lengthAdjust="spacingAndGlyphs" >76.870 77.210 76.810 77.060</text>
<text x="1342.8" y="393" font-size="36.5" fill="#ec1c24" font-family="'Liberation Sans', 'Noto Sans CJK SC', sans-serif">多空转折点<tspan font-size="37.7" dx="-1.2" dy="-1.4">77</tspan></text>
<g shape-rendering="crispEdges">
<rect x="1690" y="8" width="2" height="1" fill="#000"/>
<rect x="1690" y="41" width="2" height="1" fill="#000"/>
<rect x="1690" y="74" width="2" height="1" fill="#000"/>
<rect x="1690" y="107" width="2" height="1" fill="#000"/>
<rect x="1690" y="140" width="2" height="1" fill="#000"/>
<rect x="1690" y="173" width="2" height="1" fill="#000"/>
<rect x="1690" y="206" width="2" height="1" fill="#000"/>
<rect x="1690" y="239" width="2" height="1" fill="#000"/>
<rect x="1690" y="272" width="2" height="1" fill="#000"/>
<rect x="1690" y="305" width="2" height="1" fill="#000"/>
<rect x="1690" y="338" width="2" height="1" fill="#000"/>
<rect x="1690" y="371" width="2" height="1" fill="#000"/>
<rect x="1690" y="404" width="2" height="1" fill="#000"/>
<rect x="1690" y="437" width="2" height="1" fill="#000"/>
<rect x="1690" y="470" width="2" height="1" fill="#000"/>
<rect x="1690" y="503" width="2" height="1" fill="#000"/>
</g>
<text x="1695" y="11.5" font-size="9.6" fill="#000" font-family="'Liberation Sans', Arial, sans-serif" stroke="#000" stroke-width="0.15" textLength="28" lengthAdjust="spacingAndGlyphs" >77.805</text>
<text x="1695" y="44.5" font-size="9.6" fill="#000" font-family="'Liberation Sans', Arial, sans-serif" stroke="#000" stroke-width="0.15" textLength="28" lengthAdjust="spacingAndGlyphs" >76.905</text>
<text x="1695" y="77.5" font-size="9.6" fill="#000" font-family="'Liberation Sans', Arial, sans-serif" stroke="#000" stroke-width="0.15" textLength="28" lengthAdjust="spacingAndGlyphs" >76.005</text>
<text x="1695" y="110.5" font-size="9.6" fill="#000" font-family="'Liberation Sans', Arial, sans-serif" stroke="#000" stroke-width="0.15" textLength="28" lengthAdjust="spacingAndGlyphs" >75.105</text>
<text x="1695" y="143.5" font-size="9.6" fill="#000" font-family="'Liberation Sans', Arial, sans-serif" stroke="#000" stroke-width="0.15" textLength="28" lengthAdjust="spacingAndGlyphs" >74.205</text>
<text x="1695" y="176.5" font-size="9.6" fill="#000" font-family="'Liberation Sans', Arial, sans-serif" stroke="#000" stroke-width="0.15" textLength="28" lengthAdjust="spacingAndGlyphs" >73.305</text>
<text x="1695" y="209.5" font-size="9.6" fill="#000" font-family="'Liberation Sans', Arial, sans-serif" stroke="#000" stroke-width="0.15" textLength="28" lengthAdjust="spacingAndGlyphs" >72.405</text>
<text x="1695" y="242.5" font-size="9.6" fill="#000" font-family="'Liberation Sans', Arial, sans-serif" stroke="#000" stroke-width="0.15" textLength="28" lengthAdjust="spacingAndGlyphs" >71.505</text>
<text x="1695" y="275.5" font-size="9.6" fill="#000" font-family="'Liberation Sans', Arial, sans-serif" stroke="#000" stroke-width="0.15" textLength="28" lengthAdjust="spacingAndGlyphs" >70.605</text>
<text x="1695" y="308.5" font-size="9.6" fill="#000" font-family="'Liberation Sans', Arial, sans-serif" stroke="#000" stroke-width="0.15" textLength="28" lengthAdjust="spacingAndGlyphs" >69.705</text>
<text x="1695" y="341.5" font-size="9.6" fill="#000" font-family="'Liberation Sans', Arial, sans-serif" stroke="#000" stroke-width="0.15" textLength="28" lengthAdjust="spacingAndGlyphs" >68.805</text>
<text x="1695" y="374.5" font-size="9.6" fill="#000" font-family="'Liberation Sans', Arial, sans-serif" stroke="#000" stroke-width="0.15" textLength="28" lengthAdjust="spacingAndGlyphs" >67.905</text>
<text x="1695" y="407.5" font-size="9.6" fill="#000" font-family="'Liberation Sans', Arial, sans-serif" stroke="#000" stroke-width="0.15" textLength="28" lengthAdjust="spacingAndGlyphs" >67.005</text>
<text x="1695" y="440.5" font-size="9.6" fill="#000" font-family="'Liberation Sans', Arial, sans-serif" stroke="#000" stroke-width="0.15" textLength="28" lengthAdjust="spacingAndGlyphs" >66.105</text>
<text x="1695" y="473.5" font-size="9.6" fill="#000" font-family="'Liberation Sans', Arial, sans-serif" stroke="#000" stroke-width="0.15" textLength="28" lengthAdjust="spacingAndGlyphs" >65.205</text>
<text x="1695" y="506.5" font-size="9.6" fill="#000" font-family="'Liberation Sans', Arial, sans-serif" stroke="#000" stroke-width="0.15" textLength="28" lengthAdjust="spacingAndGlyphs" >64.305</text>
<g shape-rendering="crispEdges">
<rect x="1691" y="30" width="36" height="11" fill="#000"/>
<rect x="1691" y="32" width="36" height="11" fill="#32cd32"/>
<rect x="1691" y="142" width="36" height="11" fill="#4169e1"/>
<rect x="1691" y="215" width="36" height="11" fill="#4169e1"/>
<rect x="1691" y="270" width="36" height="11" fill="#4169e1"/>
</g>
<text x="1695" y="40.5" font-size="9.6" fill="#fff" font-family="'Liberation Sans', Arial, sans-serif" stroke="#fff" stroke-width="0.15" textLength="28" lengthAdjust="spacingAndGlyphs" >77.000</text>
<text x="1695" y="150.5" font-size="9.6" fill="#fff" font-family="'Liberation Sans', Arial, sans-serif" stroke="#fff" stroke-width="0.15" textLength="28" lengthAdjust="spacingAndGlyphs" >74.000</text>
<text x="1695" y="223.5" font-size="9.6" fill="#fff" font-family="'Liberation Sans', Arial, sans-serif" stroke="#fff" stroke-width="0.15" textLength="28" lengthAdjust="spacingAndGlyphs" >72.000</text>
<text x="1695" y="278.5" font-size="9.6" fill="#fff" font-family="'Liberation Sans', Arial, sans-serif" stroke="#fff" stroke-width="0.15" textLength="28" lengthAdjust="spacingAndGlyphs" >70.500</text>
<g clip-path="url(#cd)" shape-rendering="crispEdges">
<rect x="4" y="554" width="1" height="26" fill="#c0c0c0"/>
<rect x="12" y="560" width="1" height="20" fill="#c0c0c0"/>
<rect x="20" y="569" width="1" height="11" fill="#c0c0c0"/>
<rect x="28" y="577" width="1" height="3" fill="#c0c0c0"/>
<rect x="36" y="579" width="1" height="8" fill="#c0c0c0"/>
<rect x="44" y="579" width="1" height="22" fill="#c0c0c0"/>
<rect x="52" y="579" width="1" height="31" fill="#c0c0c0"/>
<rect x="60" y="579" width="1" height="38" fill="#c0c0c0"/>
<rect x="68" y="579" width="1" height="43" fill="#c0c0c0"/>
<rect x="76" y="579" width="1" height="45" fill="#c0c0c0"/>
<rect x="84" y="579" width="1" height="54" fill="#c0c0c0"/>
<rect x="92" y="579" width="1" height="56" fill="#c0c0c0"/>
<rect x="100" y="579" width="1" height="67" fill="#c0c0c0"/>
<rect x="108" y="579" width="1" height="75" fill="#c0c0c0"/>
<rect x="116" y="579" width="1" height="79" fill="#c0c0c0"/>
<rect x="124" y="579" width="1" height="83" fill="#c0c0c0"/>
<rect x="132" y="579" width="1" height="76" fill="#c0c0c0"/>
<rect x="140" y="579" width="1" height="65" fill="#c0c0c0"/>
<rect x="148" y="579" width="1" height="57" fill="#c0c0c0"/>
<rect x="156" y="579" width="1" height="50" fill="#c0c0c0"/>
<rect x="164" y="579" width="1" height="45" fill="#c0c0c0"/>
<rect x="172" y="579" width="1" height="38" fill="#c0c0c0"/>
<rect x="180" y="579" width="1" height="28" fill="#c0c0c0"/>
<rect x="188" y="579" width="1" height="20" fill="#c0c0c0"/>
<rect x="196" y="579" width="1" height="8" fill="#c0c0c0"/>
<rect x="204" y="577" width="1" height="3" fill="#c0c0c0"/>
<rect x="212" y="568" width="1" height="12" fill="#c0c0c0"/>
<rect x="220" y="560" width="1" height="20" fill="#c0c0c0"/>
<rect x="228" y="556" width="1" height="24" fill="#c0c0c0"/>
<rect x="236" y="553" width="1" height="27" fill="#c0c0c0"/>
<rect x="244" y="549" width="1" height="31" fill="#c0c0c0"/>
<rect x="252" y="546" width="1" height="34" fill="#c0c0c0"/>
<rect x="260" y="546" width="1" height="34" fill="#c0c0c0"/>
<rect x="268" y="544" width="1" height="36" fill="#c0c0c0"/>
<rect x="276" y="545" width="1" height="35" fill="#c0c0c0"/>
<rect x="284" y="544" width="1" height="36" fill="#c0c0c0"/>
<rect x="292" y="543" width="1" height="37" fill="#c0c0c0"/>
<rect x="300" y="544" width="1" height="36" fill="#c0c0c0"/>
<rect x="308" y="547" width="1" height="33" fill="#c0c0c0"/>
<rect x="316" y="550" width="1" height="30" fill="#c0c0c0"/>
<rect x="324" y="555" width="1" height="25" fill="#c0c0c0"/>
<rect x="332" y="552" width="1" height="28" fill="#c0c0c0"/>
<rect x="340" y="548" width="1" height="32" fill="#c0c0c0"/>
<rect x="348" y="546" width="1" height="34" fill="#c0c0c0"/>
<rect x="356" y="542" width="1" height="38" fill="#c0c0c0"/>
<rect x="364" y="542" width="1" height="38" fill="#c0c0c0"/>
<rect x="372" y="540" width="1" height="40" fill="#c0c0c0"/>
<rect x="380" y="540" width="1" height="40" fill="#c0c0c0"/>
<rect x="388" y="543" width="1" height="37" fill="#c0c0c0"/>
<rect x="396" y="546" width="1" height="34" fill="#c0c0c0"/>
<rect x="404" y="549" width="1" height="31" fill="#c0c0c0"/>
<rect x="412" y="550" width="1" height="30" fill="#c0c0c0"/>
<rect x="420" y="548" width="1" height="32" fill="#c0c0c0"/>
<rect x="428" y="546" width="1" height="34" fill="#c0c0c0"/>
<rect x="436" y="548" width="1" height="32" fill="#c0c0c0"/>
<rect x="444" y="550" width="1" height="30" fill="#c0c0c0"/>
<rect x="452" y="545" width="1" height="35" fill="#c0c0c0"/>
<rect x="460" y="538" width="1" height="42" fill="#c0c0c0"/>
<rect x="468" y="531" width="1" height="49" fill="#c0c0c0"/>
<rect x="476" y="531" width="1" height="49" fill="#c0c0c0"/>
<rect x="484" y="530" width="1" height="50" fill="#c0c0c0"/>
<rect x="492" y="529" width="1" height="51" fill="#c0c0c0"/>
<rect x="500" y="530" width="1" height="50" fill="#c0c0c0"/>
<rect x="508" y="530" width="1" height="50" fill="#c0c0c0"/>
<rect x="516" y="527" width="1" height="53" fill="#c0c0c0"/>
<rect x="524" y="525" width="1" height="55" fill="#c0c0c0"/>
<rect x="532" y="523" width="1" height="57" fill="#c0c0c0"/>
<rect x="540" y="522" width="1" height="58" fill="#c0c0c0"/>
<rect x="548" y="518" width="1" height="62" fill="#c0c0c0"/>
<rect x="556" y="518" width="1" height="62" fill="#c0c0c0"/>
<rect x="564" y="520" width="1" height="60" fill="#c0c0c0"/>
<rect x="572" y="524" width="1" height="56" fill="#c0c0c0"/>
<rect x="580" y="526" width="1" height="54" fill="#c0c0c0"/>
<rect x="588" y="527" width="1" height="53" fill="#c0c0c0"/>
<rect x="596" y="531" width="1" height="49" fill="#c0c0c0"/>
<rect x="604" y="532" width="1" height="48" fill="#c0c0c0"/>
<rect x="612" y="533" width="1" height="47" fill="#c0c0c0"/>
<rect x="620" y="534" width="1" height="46" fill="#c0c0c0"/>
<rect x="628" y="535" width="1" height="45" fill="#c0c0c0"/>
<rect x="636" y="536" width="1" height="44" fill="#c0c0c0"/>
<rect x="644" y="535" width="1" height="45" fill="#c0c0c0"/>
<rect x="652" y="539" width="1" height="41" fill="#c0c0c0"/>
<rect x="660" y="542" width="1" height="38" fill="#c0c0c0"/>
<rect x="668" y="543" width="1" height="37" fill="#c0c0c0"/>
<rect x="676" y="545" width="1" height="35" fill="#c0c0c0"/>
<rect x="684" y="548" width="1" height="32" fill="#c0c0c0"/>
<rect x="692" y="551" width="1" height="29" fill="#c0c0c0"/>
<rect x="700" y="558" width="1" height="22" fill="#c0c0c0"/>
<rect x="708" y="563" width="1" height="17" fill="#c0c0c0"/>
<rect x="716" y="567" width="1" height="13" fill="#c0c0c0"/>
<rect x="724" y="563" width="1" height="17" fill="#c0c0c0"/>
<rect x="732" y="557" width="1" height="23" fill="#c0c0c0"/>
<rect x="740" y="556" width="1" height="24" fill="#c0c0c0"/>
<rect x="748" y="549" width="1" height="31" fill="#c0c0c0"/>
<rect x="756" y="546" width="1" height="34" fill="#c0c0c0"/>
<rect x="764" y="542" width="1" height="38" fill="#c0c0c0"/>
<rect x="772" y="545" width="1" height="35" fill="#c0c0c0"/>
<rect x="780" y="548" width="1" height="32" fill="#c0c0c0"/>
<rect x="788" y="550" width="1" height="30" fill="#c0c0c0"/>
<rect x="796" y="554" width="1" height="26" fill="#c0c0c0"/>
<rect x="804" y="556" width="1" height="24" fill="#c0c0c0"/>
<rect x="812" y="555" width="1" height="25" fill="#c0c0c0"/>
<rect x="820" y="553" width="1" height="27" fill="#c0c0c0"/>
<rect x="828" y="553" width="1" height="27" fill="#c0c0c0"/>
<rect x="836" y="553" width="1" height="27" fill="#c0c0c0"/>
<rect x="844" y="556" width="1" height="24" fill="#c0c0c0"/>
<rect x="852" y="554" width="1" height="26" fill="#c0c0c0"/>
<rect x="860" y="554" width="1" height="26" fill="#c0c0c0"/>
<rect x="868" y="551" width="1" height="29" fill="#c0c0c0"/>
<rect x="876" y="553" width="1" height="27" fill="#c0c0c0"/>
<rect x="884" y="553" width="1" height="27" fill="#c0c0c0"/>
<rect x="892" y="552" width="1" height="28" fill="#c0c0c0"/>
<rect x="900" y="551" width="1" height="29" fill="#c0c0c0"/>
<rect x="908" y="547" width="1" height="33" fill="#c0c0c0"/>
<rect x="916" y="547" width="1" height="33" fill="#c0c0c0"/>
<rect x="924" y="546" width="1" height="34" fill="#c0c0c0"/>
<rect x="932" y="547" width="1" height="33" fill="#c0c0c0"/>
<rect x="940" y="548" width="1" height="32" fill="#c0c0c0"/>
<rect x="948" y="549" width="1" height="31" fill="#c0c0c0"/>
<rect x="956" y="549" width="1" height="31" fill="#c0c0c0"/>
<rect x="964" y="546" width="1" height="34" fill="#c0c0c0"/>
<rect x="972" y="545" width="1" height="35" fill="#c0c0c0"/>
<rect x="980" y="540" width="1" height="40" fill="#c0c0c0"/>
<rect x="988" y="536" width="1" height="44" fill="#c0c0c0"/>
<rect x="996" y="530" width="1" height="50" fill="#c0c0c0"/>
<rect x="1004" y="529" width="1" height="51" fill="#c0c0c0"/>
<rect x="1012" y="529" width="1" height="51" fill="#c0c0c0"/>
<rect x="1020" y="525" width="1" height="55" fill="#c0c0c0"/>
<rect x="1028" y="529" width="1" height="51" fill="#c0c0c0"/>
<rect x="1036" y="534" width="1" height="46" fill="#c0c0c0"/>
<rect x="1044" y="537" width="1" height="43" fill="#c0c0c0"/>
<rect x="1052" y="539" width="1" height="41" fill="#c0c0c0"/>
<rect x="1060" y="541" width="1" height="39" fill="#c0c0c0"/>
<rect x="1068" y="555" width="1" height="25" fill="#c0c0c0"/>
<rect x="1076" y="562" width="1" height="18" fill="#c0c0c0"/>
<rect x="1084" y="568" width="1" height="12" fill="#c0c0c0"/>
<rect x="1092" y="578" width="1" height="2" fill="#c0c0c0"/>
<rect x="1100" y="579" width="1" height="4" fill="#c0c0c0"/>
<rect x="1108" y="579" width="1" height="9" fill="#c0c0c0"/>
<rect x="1116" y="579" width="1" height="5" fill="#c0c0c0"/>
<rect x="1124" y="579" width="1" height="3" fill="#c0c0c0"/>
<rect x="1132" y="579" width="1" height="3" fill="#c0c0c0"/>
<rect x="1140" y="579" width="1" height="1" fill="#c0c0c0"/>
<rect x="1148" y="576" width="1" height="4" fill="#c0c0c0"/>
<rect x="1156" y="573" width="1" height="7" fill="#c0c0c0"/>
<rect x="1164" y="573" width="1" height="7" fill="#c0c0c0"/>
<rect x="1172" y="566" width="1" height="14" fill="#c0c0c0"/>
<rect x="1180" y="558" width="1" height="22" fill="#c0c0c0"/>
<rect x="1188" y="552" width="1" height="28" fill="#c0c0c0"/>
<rect x="1196" y="546" width="1" height="34" fill="#c0c0c0"/>
<rect x="1204" y="545" width="1" height="35" fill="#c0c0c0"/>
<rect x="1212" y="546" width="1" height="34" fill="#c0c0c0"/>
<rect x="1220" y="545" width="1" height="35" fill="#c0c0c0"/>
<rect x="1228" y="544" width="1" height="36" fill="#c0c0c0"/>
<rect x="1236" y="545" width="1" height="35" fill="#c0c0c0"/>
<rect x="1244" y="541" width="1" height="39" fill="#c0c0c0"/>
<rect x="1252" y="538" width="1" height="42" fill="#c0c0c0"/>
<rect x="1260" y="536" width="1" height="44" fill="#c0c0c0"/>
<rect x="1268" y="534" width="1" height="46" fill="#c0c0c0"/>
<rect x="1276" y="534" width="1" height="46" fill="#c0c0c0"/>
<rect x="1284" y="535" width="1" height="45" fill="#c0c0c0"/>
<rect x="1292" y="538" width="1" height="42" fill="#c0c0c0"/>
<rect x="1300" y="537" width="1" height="43" fill="#c0c0c0"/>
<rect x="1308" y="541" width="1" height="39" fill="#c0c0c0"/>
<rect x="1316" y="542" width="1" height="38" fill="#c0c0c0"/>
<rect x="1324" y="542" width="1" height="38" fill="#c0c0c0"/>
<rect x="1332" y="547" width="1" height="33" fill="#c0c0c0"/>
<rect x="1340" y="550" width="1" height="30" fill="#c0c0c0"/>
<rect x="1348" y="556" width="1" height="24" fill="#c0c0c0"/>
<rect x="1356" y="557" width="1" height="23" fill="#c0c0c0"/>
<rect x="1364" y="557" width="1" height="23" fill="#c0c0c0"/>
<rect x="1372" y="558" width="1" height="22" fill="#c0c0c0"/>
<rect x="1380" y="557" width="1" height="23" fill="#c0c0c0"/>
<rect x="1388" y="559" width="1" height="21" fill="#c0c0c0"/>
<rect x="1396" y="561" width="1" height="19" fill="#c0c0c0"/>
<rect x="1404" y="562" width="1" height="18" fill="#c0c0c0"/>
<rect x="1412" y="570" width="1" height="10" fill="#c0c0c0"/>
<rect x="1420" y="578" width="1" height="2" fill="#c0c0c0"/>
<rect x="1428" y="579" width="1" height="5" fill="#c0c0c0"/>
<rect x="1436" y="579" width="1" height="12" fill="#c0c0c0"/>
<rect x="1444" y="579" width="1" height="15" fill="#c0c0c0"/>
<rect x="1452" y="579" width="1" height="16" fill="#c0c0c0"/>
<rect x="1460" y="579" width="1" height="15" fill="#c0c0c0"/>
<rect x="1468" y="579" width="1" height="13" fill="#c0c0c0"/>
<rect x="1476" y="579" width="1" height="11" fill="#c0c0c0"/>
<rect x="1484" y="579" width="1" height="10" fill="#c0c0c0"/>
<rect x="1492" y="579" width="1" height="11" fill="#c0c0c0"/>
<rect x="1500" y="579" width="1" height="7" fill="#c0c0c0"/>
<rect x="1508" y="579" width="1" height="7" fill="#c0c0c0"/>
<rect x="1516" y="579" width="1" height="6" fill="#c0c0c0"/>
<rect x="1524" y="579" width="1" height="5" fill="#c0c0c0"/>
<rect x="1532" y="579" width="1" height="4" fill="#c0c0c0"/>
<rect x="1540" y="579" width="1" height="1" fill="#c0c0c0"/>
<rect x="1548" y="567" width="1" height="13" fill="#c0c0c0"/>
<rect x="1556" y="563" width="1" height="17" fill="#c0c0c0"/>
<rect x="1564" y="561" width="1" height="19" fill="#c0c0c0"/>
<rect x="1572" y="559" width="1" height="21" fill="#c0c0c0"/>
<rect x="1580" y="556" width="1" height="24" fill="#c0c0c0"/>
<rect x="1588" y="554" width="1" height="26" fill="#c0c0c0"/>
<rect x="1596" y="556" width="1" height="24" fill="#c0c0c0"/>
<rect x="1604" y="553" width="1" height="27" fill="#c0c0c0"/>
<rect x="1612" y="550" width="1" height="30" fill="#c0c0c0"/>
<rect x="1620" y="548" width="1" height="32" fill="#c0c0c0"/>
<rect x="1628" y="547" width="1" height="33" fill="#c0c0c0"/>
<rect x="1636" y="547" width="1" height="33" fill="#c0c0c0"/>
<rect x="1644" y="547" width="1" height="33" fill="#c0c0c0"/>
<rect x="1652" y="545" width="1" height="35" fill="#c0c0c0"/>
<rect x="1660" y="540" width="1" height="40" fill="#c0c0c0"/>
<rect x="1668" y="536" width="1" height="44" fill="#c0c0c0"/>
<path d="M4 553h3v1h-3zM10 552h3v1h-3zM16 552h3v1h-3zM22 553h3v1h-3zM28 554h1v1h-1zM29 555h2v1h-2zM34 557h1v1h-1zM35 558h2v1h-2zM40 561h1v1h-1zM41 562h1v1h-1zM42 563h1v1h-1zM46 566h1v1h-1zM47 567h1v1h-1zM48 568h1v1h-1zM52 571h1v1h-1zM53 572h1v1h-1zM54 573h1v1h-1zM58 577h1v1h-1zM59 578h1v1h-1zM60 579h1v1h-1zM64 583h1v1h-1zM65 584h1v1h-1zM66 585h1v1h-1zM70 589h1v1h-1zM71 590h1v1h-1zM72 591h1v1h-1zM76 595h1v1h-1zM77 596h1v1h-1zM78 597h1v1h-1zM82 601h1v1h-1zM83 602h1v1h-1zM84 603h1v1h-1zM88 607h1v1h-1zM89 608h1v1h-1zM90 609h1v1h-1zM94 613h1v1h-1zM95 614h1v1h-1zM96 615h1v1h-1zM100 618h1v1h-1zM101 619h1v1h-1zM102 620h1v1h-1zM106 624h1v1h-1zM107 625h1v1h-1zM108 626h1v1h-1zM112 630h1v1h-1zM113 631h1v1h-1zM114 632h1v1h-1zM118 635h1v1h-1zM119 636h1v1h-1zM120 637h1v1h-1zM124 639h1v1h-1zM125 640h2v1h-2zM130 642h1v1h-1zM131 643h2v1h-2zM136 644h2v1h-2zM138 645h1v1h-1zM142 646h3v1h-3zM148 647h3v1h-3zM154 647h3v1h-3zM160 646h3v1h-3zM166 645h1v1h-1zM167 644h2v1h-2zM172 643h1v1h-1zM173 642h2v1h-2zM178 639h2v1h-2zM180 638h1v1h-1zM184 635h1v1h-1zM185 634h2v1h-2zM190 630h1v1h-1zM190 629h1v1h-1zM191 628h1v1h-1zM194 624h1v1h-1zM195 623h1v1h-1zM196 622h1v1h-1zM200 618h1v1h-1zM200 617h1v1h-1zM201 616h1v1h-1zM205 612h1v1h-1zM206 611h1v1h-1zM207 610h1v1h-1zM210 606h1v1h-1zM211 605h1v1h-1zM212 604h1v1h-1zM216 600h1v1h-1zM217 599h1v1h-1zM218 598h1v1h-1zM222 594h1v1h-1zM223 593h1v1h-1zM224 592h1v1h-1zM228 588h1v1h-1zM229 587h1v1h-1zM230 586h1v1h-1zM234 582h1v1h-1zM235 581h1v1h-1zM236 580h1v1h-1zM240 576h1v1h-1zM240 575h1v1h-1zM241 574h1v1h-1zM245 570h1v1h-1zM246 569h1v1h-1zM247 568h1v1h-1zM251 565h1v1h-1zM252 564h1v1h-1zM253 563h1v1h-1zM257 561h1v1h-1zM258 560h2v1h-2zM263 557h2v1h-2zM265 556h1v1h-1zM269 554h1v1h-1zM270 553h2v1h-2zM275 551h3v1h-3zM281 549h2v1h-2zM283 548h1v1h-1zM287 547h3v1h-3zM293 546h3v1h-3zM299 545h3v1h-3zM305 544h3v1h-3zM311 544h1v1h-1zM312 545h2v1h-2zM317 545h3v1h-3zM323 545h3v1h-3zM329 546h3v1h-3zM335 546h1v1h-1zM336 547h2v1h-2zM341 547h3v1h-3zM347 547h3v1h-3zM353 547h3v1h-3zM359 547h2v1h-2zM361 546h1v1h-1zM365 546h3v1h-3zM371 546h3v1h-3zM377 545h3v1h-3zM383 545h2v1h-2zM385 544h1v1h-1zM389 544h3v1h-3zM395 543h3v1h-3zM401 543h3v1h-3zM407 543h3v1h-3zM413 543h3v1h-3zM419 543h3v1h-3zM425 544h3v1h-3zM431 544h3v1h-3zM437 544h3v1h-3zM443 545h3v1h-3zM449 546h3v1h-3zM455 546h2v1h-2zM457 545h1v1h-1zM461 545h3v1h-3zM467 544h3v1h-3zM473 543h2v1h-2zM475 542h1v1h-1zM479 541h3v1h-3zM485 540h2v1h-2zM487 539h1v1h-1zM491 538h3v1h-3zM497 537h2v1h-2zM499 536h1v1h-1zM503 535h3v1h-3zM509 534h1v1h-1zM510 533h2v1h-2zM515 531h3v1h-3zM521 530h2v1h-2zM523 529h1v1h-1zM527 528h3v1h-3zM533 527h3v1h-3zM539 526h3v1h-3zM545 525h3v1h-3zM551 525h2v1h-2zM553 524h1v1h-1zM557 524h3v1h-3zM563 523h3v1h-3zM569 522h3v1h-3zM575 522h3v1h-3zM581 522h3v1h-3zM587 522h3v1h-3zM593 522h3v1h-3zM599 522h1v1h-1zM600 523h2v1h-2zM605 523h3v1h-3zM611 524h3v1h-3zM617 525h3v1h-3zM623 526h3v1h-3zM629 527h1v1h-1zM630 528h2v1h-2zM635 529h3v1h-3zM641 530h1v1h-1zM642 531h2v1h-2zM647 531h1v1h-1zM648 532h2v1h-2zM653 532h1v1h-1zM654 533h2v1h-2zM659 534h3v1h-3zM665 535h3v1h-3zM671 535h1v1h-1zM672 536h2v1h-2zM677 536h1v1h-1zM678 537h2v1h-2zM683 538h3v1h-3zM689 539h1v1h-1zM690 540h2v1h-2zM695 541h3v1h-3zM701 542h1v1h-1zM702 543h2v1h-2zM707 545h2v1h-2zM709 546h1v1h-1zM713 548h2v1h-2zM715 549h1v1h-1zM719 550h3v1h-3zM725 551h1v1h-1zM726 552h2v1h-2zM731 554h3v1h-3zM737 555h3v1h-3zM743 555h1v1h-1zM744 556h2v1h-2zM749 556h3v1h-3zM755 555h3v1h-3zM761 555h3v1h-3zM767 554h3v1h-3zM773 553h2v1h-2zM775 552h1v1h-1zM779 551h3v1h-3zM785 550h2v1h-2zM787 549h1v1h-1zM791 549h2v1h-2zM793 548h1v1h-1zM797 548h3v1h-3zM803 548h3v1h-3zM809 548h3v1h-3zM815 548h1v1h-1zM816 549h2v1h-2zM821 549h3v1h-3zM827 550h3v1h-3zM833 551h3v1h-3zM839 551h1v1h-1zM840 552h2v1h-2zM845 552h3v1h-3zM851 553h3v1h-3zM857 553h3v1h-3zM863 553h3v1h-3zM869 553h3v1h-3zM875 552h3v1h-3zM881 552h3v1h-3zM887 552h3v1h-3zM893 552h3v1h-3zM899 552h3v1h-3zM905 551h3v1h-3zM911 551h2v1h-2zM913 550h1v1h-1zM917 550h3v1h-3zM923 549h3v1h-3zM929 548h3v1h-3zM935 548h3v1h-3zM941 548h3v1h-3zM947 548h3v1h-3zM953 547h3v1h-3zM959 547h3v1h-3zM965 547h3v1h-3zM971 546h3v1h-3zM977 545h3v1h-3zM983 544h3v1h-3zM989 543h3v1h-3zM995 542h3v1h-3zM1001 541h2v1h-2zM1003 540h1v1h-1zM1007 539h2v1h-2zM1009 538h1v1h-1zM1013 537h3v1h-3zM1019 536h3v1h-3zM1025 534h2v1h-2zM1027 533h1v1h-1zM1031 533h2v1h-2zM1033 532h1v1h-1zM1037 532h3v1h-3zM1043 531h3v1h-3zM1049 531h3v1h-3zM1055 531h1v1h-1zM1056 532h2v1h-2zM1061 532h1v1h-1zM1062 533h2v1h-2zM1067 534h3v1h-3zM1073 536h2v1h-2zM1075 537h1v1h-1zM1079 539h1v1h-1zM1080 540h2v1h-2zM1085 543h2v1h-2zM1087 544h1v1h-1zM1091 546h1v1h-1zM1092 547h1v1h-1zM1093 548h1v1h-1zM1097 551h1v1h-1zM1098 552h2v1h-2zM1103 556h1v1h-1zM1104 557h2v1h-2zM1109 561h1v1h-1zM1110 562h2v1h-2zM1115 565h1v1h-1zM1116 566h1v1h-1zM1117 567h1v1h-1zM1121 569h1v1h-1zM1122 570h2v1h-2zM1127 573h2v1h-2zM1129 574h1v1h-1zM1133 575h1v1h-1zM1134 576h2v1h-2zM1139 578h3v1h-3zM1145 579h3v1h-3zM1151 579h1v1h-1zM1152 580h2v1h-2zM1157 580h3v1h-3zM1163 580h3v1h-3zM1169 579h2v1h-2zM1171 578h1v1h-1zM1175 577h1v1h-1zM1176 576h2v1h-2zM1181 574h1v1h-1zM1182 573h2v1h-2zM1187 571h1v1h-1zM1188 570h2v1h-2zM1193 568h2v1h-2zM1195 567h1v1h-1zM1199 565h2v1h-2zM1201 564h1v1h-1zM1205 562h1v1h-1zM1206 561h2v1h-2zM1211 559h3v1h-3zM1217 557h1v1h-1zM1218 556h2v1h-2zM1223 554h2v1h-2zM1225 553h1v1h-1zM1229 552h1v1h-1zM1230 551h2v1h-2zM1235 549h3v1h-3zM1241 547h2v1h-2zM1243 546h1v1h-1zM1247 545h3v1h-3zM1253 544h2v1h-2zM1255 543h1v1h-1zM1259 542h3v1h-3zM1265 541h3v1h-3zM1271 540h3v1h-3zM1277 539h3v1h-3zM1283 538h3v1h-3zM1289 537h3v1h-3zM1295 537h2v1h-2zM1297 536h1v1h-1zM1301 536h3v1h-3zM1307 536h3v1h-3zM1313 536h3v1h-3zM1319 536h1v1h-1zM1320 537h2v1h-2zM1325 537h3v1h-3zM1331 538h3v1h-3zM1337 539h1v1h-1zM1338 540h2v1h-2zM1343 541h3v1h-3zM1349 542h1v1h-1zM1350 543h2v1h-2zM1355 544h3v1h-3zM1361 546h2v1h-2zM1363 547h1v1h-1zM1367 548h3v1h-3zM1373 549h3v1h-3zM1379 550h3v1h-3zM1385 552h2v1h-2zM1387 553h1v1h-1zM1391 553h1v1h-1zM1392 554h2v1h-2zM1397 554h1v1h-1zM1398 555h2v1h-2zM1403 556h3v1h-3zM1409 558h2v1h-2zM1411 559h1v1h-1zM1415 559h1v1h-1zM1416 560h2v1h-2zM1421 560h1v1h-1zM1422 561h2v1h-2zM1427 563h2v1h-2zM1429 564h1v1h-1zM1433 566h2v1h-2zM1435 567h1v1h-1zM1439 569h2v1h-2zM1441 570h1v1h-1zM1445 572h2v1h-2zM1447 573h1v1h-1zM1451 575h2v1h-2zM1453 576h1v1h-1zM1457 578h1v1h-1zM1458 579h2v1h-2zM1463 582h2v1h-2zM1465 583h1v1h-1zM1469 584h1v1h-1zM1470 585h2v1h-2zM1475 586h3v1h-3zM1481 588h2v1h-2zM1483 589h1v1h-1zM1487 589h1v1h-1zM1488 590h2v1h-2zM1493 590h3v1h-3zM1499 591h3v1h-3zM1505 590h3v1h-3zM1511 590h2v1h-2zM1513 589h1v1h-1zM1517 589h3v1h-3zM1523 588h3v1h-3zM1529 587h3v1h-3zM1535 586h3v1h-3zM1541 585h2v1h-2zM1543 584h1v1h-1zM1547 583h3v1h-3zM1553 581h2v1h-2zM1555 580h1v1h-1zM1559 579h1v1h-1zM1560 578h2v1h-2zM1565 576h1v1h-1zM1566 575h2v1h-2zM1571 573h3v1h-3zM1577 571h2v1h-2zM1579 570h1v1h-1zM1583 569h1v1h-1zM1584 568h2v1h-2zM1589 566h1v1h-1zM1590 565h2v1h-2zM1595 563h3v1h-3zM1601 561h2v1h-2zM1603 560h1v1h-1zM1607 559h2v1h-2zM1609 558h1v1h-1zM1613 557h2v1h-2zM1615 556h1v1h-1zM1619 555h3v1h-3zM1625 554h2v1h-2zM1627 553h1v1h-1zM1631 552h3v1h-3zM1637 551h3v1h-3zM1643 550h3v1h-3zM1649 549h3v1h-3zM1655 548h3v1h-3zM1661 547h3v1h-3zM1667 546h2v1h-2z" fill="#ff0000"/>
</g>
<text x="8" y="520.5" font-size="9.6" fill="#000" font-family="'Liberation Sans', Arial, sans-serif" stroke="#000" stroke-width="0.15" textLength="128" lengthAdjust="spacingAndGlyphs" >MACD(12,26,9) 0.4800 0.3738</text>
<g shape-rendering="crispEdges">
<rect x="1690" y="579" width="2" height="1" fill="#000"/>
</g>
<text x="1693" y="518.5" font-size="9.6" fill="#000" font-family="'Liberation Sans', Arial, sans-serif" stroke="#000" stroke-width="0.15" textLength="18" lengthAdjust="spacingAndGlyphs" >0.76</text>
<text x="1693" y="582.5" font-size="9.6" fill="#000" font-family="'Liberation Sans', Arial, sans-serif" stroke="#000" stroke-width="0.15" textLength="18" lengthAdjust="spacingAndGlyphs" >0.00</text>
<text x="1693" y="666.5" font-size="9.6" fill="#000" font-family="'Liberation Sans', Arial, sans-serif" stroke="#000" stroke-width="0.15" textLength="31" lengthAdjust="spacingAndGlyphs" >-0.9862</text>
<g clip-path="url(#cr)" shape-rendering="crispEdges">
<line x1="4" y1="718.5" x2="1689" y2="718.5" stroke="#c0c0c0" stroke-width="1" stroke-dasharray="3 3" stroke-dashoffset="5"/>
<line x1="4" y1="776.5" x2="1689" y2="776.5" stroke="#c0c0c0" stroke-width="1" stroke-dasharray="3 3" stroke-dashoffset="5"/>
<polyline points="4.5,748.5 12.5,751.5 20.5,760.5 28.5,761.5 36.5,768.5 44.5,776.5 52.5,772.5 60.5,772.5 68.5,770.5 76.5,769.5 84.5,779.5 92.5,767.5 100.5,779.5 108.5,779.5 116.5,776.5 124.5,778.5 132.5,757.5 140.5,749.5 148.5,750.5 156.5,750.5 164.5,753.5 172.5,748.5 180.5,740.5 188.5,739.5 196.5,732.5 204.5,728.5 212.5,730.5 220.5,727.5 228.5,734.5 236.5,733.5 244.5,730.5 252.5,729.5 260.5,735.5 268.5,731.5 276.5,738.5 284.5,732.5 292.5,733.5 300.5,734.5 308.5,741.5 316.5,742.5 324.5,746.5 332.5,731.5 340.5,729.5 348.5,728.5 356.5,724.5 364.5,733.5 372.5,727.5 380.5,732.5 388.5,739.5 396.5,739.5 404.5,740.5 412.5,736.5 420.5,729.5 428.5,729.5 436.5,737.5 444.5,737.5 452.5,723.5 460.5,717.5 468.5,715.5 476.5,728.5 484.5,726.5 492.5,725.5 500.5,729.5 508.5,726.5 516.5,720.5 524.5,720.5 532.5,718.5 540.5,721.5 548.5,713.5 556.5,720.5 564.5,728.5 572.5,733.5 580.5,728.5 588.5,728.5 596.5,732.5 604.5,728.5 612.5,730.5 620.5,727.5 628.5,726.5 636.5,726.5 644.5,721.5 652.5,736.5 660.5,735.5 668.5,731.5 676.5,735.5 684.5,737.5 692.5,738.5 700.5,755.5 708.5,751.5 716.5,752.5 724.5,731.5 732.5,724.5 740.5,732.5 748.5,723.5 756.5,727.5 764.5,725.5 772.5,738.5 780.5,740.5 788.5,739.5 796.5,746.5 804.5,742.5 812.5,734.5 820.5,731.5 828.5,735.5 836.5,736.5 844.5,742.5 852.5,733.5 860.5,732.5 868.5,729.5 876.5,735.5 884.5,735.5 892.5,732.5 900.5,728.5 908.5,722.5 916.5,729.5 924.5,726.5 932.5,734.5 940.5,733.5 948.5,733.5 956.5,729.5 964.5,720.5 972.5,725.5 980.5,716.5 988.5,715.5 996.5,709.5 1004.5,720.5 1012.5,721.5 1020.5,714.5 1028.5,735.5 1036.5,738.5 1044.5,736.5 1052.5,734.5 1060.5,734.5 1068.5,763.5 1076.5,753.5 1084.5,755.5 1092.5,762.5 1100.5,758.5 1108.5,760.5 1116.5,741.5 1124.5,745.5 1132.5,748.5 1140.5,741.5 1148.5,739.5 1156.5,740.5 1164.5,745.5 1172.5,730.5 1180.5,727.5 1188.5,729.5 1196.5,725.5 1204.5,735.5 1212.5,738.5 1220.5,734.5 1228.5,733.5 1236.5,735.5 1244.5,728.5 1252.5,727.5 1260.5,726.5 1268.5,724.5 1276.5,730.5 1284.5,730.5 1292.5,732.5 1300.5,727.5 1308.5,741.5 1316.5,734.5 1324.5,732.5 1332.5,744.5 1340.5,742.5 1348.5,749.5 1356.5,740.5 1364.5,739.5 1372.5,739.5 1380.5,736.5 1388.5,741.5 1396.5,743.5 1404.5,742.5 1412.5,760.5 1420.5,763.5 1428.5,765.5 1436.5,769.5 1444.5,759.5 1452.5,756.5 1460.5,752.5 1468.5,747.5 1476.5,748.5 1484.5,748.5 1492.5,756.5 1500.5,740.5 1508.5,749.5 1516.5,747.5 1524.5,747.5 1532.5,743.5 1540.5,736.5 1548.5,720.5 1556.5,734.5 1564.5,736.5 1572.5,735.5 1580.5,731.5 1588.5,733.5 1596.5,740.5 1604.5,731.5 1612.5,728.5 1620.5,731.5 1628.5,731.5 1636.5,732.5 1644.5,730.5 1652.5,726.5 1660.5,719.5 1668.5,717.5" fill="none" stroke="#1e90ff" stroke-width="1"/>
</g>
<text x="8" y="684.5" font-size="9.6" fill="#000" font-family="'Liberation Sans', Arial, sans-serif" stroke="#000" stroke-width="0.15" textLength="68" lengthAdjust="spacingAndGlyphs" >RSI(14) 70.3422</text>
<text x="1693" y="683.5" font-size="9.6" fill="#000" font-family="'Liberation Sans', Arial, sans-serif" stroke="#000" stroke-width="0.15" textLength="15" lengthAdjust="spacingAndGlyphs" >100</text>
<text x="1693" y="721.5" font-size="9.6" fill="#000" font-family="'Liberation Sans', Arial, sans-serif" stroke="#000" stroke-width="0.15" textLength="10" lengthAdjust="spacingAndGlyphs" >70</text>
<text x="1693" y="779.5" font-size="9.6" fill="#000" font-family="'Liberation Sans', Arial, sans-serif" stroke="#000" stroke-width="0.15" textLength="10" lengthAdjust="spacingAndGlyphs" >30</text>
<text x="1693" y="817.5" font-size="9.6" fill="#000" font-family="'Liberation Sans', Arial, sans-serif" stroke="#000" stroke-width="0.15" textLength="5" lengthAdjust="spacingAndGlyphs" >0</text>
<g shape-rendering="crispEdges">
<rect x="1690" y="820" width="2" height="1" fill="#000"/>
</g>
<g shape-rendering="crispEdges">
<rect x="4" y="822" width="1" height="3" fill="#000"/>
<rect x="68" y="822" width="1" height="3" fill="#000"/>
<rect x="132" y="822" width="1" height="3" fill="#000"/>
<rect x="196" y="822" width="1" height="3" fill="#000"/>
<rect x="260" y="822" width="1" height="3" fill="#000"/>
<rect x="324" y="822" width="1" height="3" fill="#000"/>
<rect x="388" y="822" width="1" height="3" fill="#000"/>
<rect x="452" y="822" width="1" height="3" fill="#000"/>
<rect x="516" y="822" width="1" height="3" fill="#000"/>
<rect x="580" y="822" width="1" height="3" fill="#000"/>
<rect x="644" y="822" width="1" height="3" fill="#000"/>
<rect x="708" y="822" width="1" height="3" fill="#000"/>
<rect x="772" y="822" width="1" height="3" fill="#000"/>
<rect x="836" y="822" width="1" height="3" fill="#000"/>
<rect x="900" y="822" width="1" height="3" fill="#000"/>
<rect x="964" y="822" width="1" height="3" fill="#000"/>
<rect x="1028" y="822" width="1" height="3" fill="#000"/>
<rect x="1092" y="822" width="1" height="3" fill="#000"/>
<rect x="1156" y="822" width="1" height="3" fill="#000"/>
<rect x="1220" y="822" width="1" height="3" fill="#000"/>
<rect x="1284" y="822" width="1" height="3" fill="#000"/>
<rect x="1348" y="822" width="1" height="3" fill="#000"/>
<rect x="1412" y="822" width="1" height="3" fill="#000"/>
<rect x="1476" y="822" width="1" height="3" fill="#000"/>
<rect x="1540" y="822" width="1" height="3" fill="#000"/>
<rect x="1604" y="822" width="1" height="3" fill="#000"/>
<rect x="1668" y="822" width="1" height="3" fill="#000"/>
</g>
<text x="4" y="833.5" font-size="9.6" fill="#000" font-family="'Liberation Sans', Arial, sans-serif" stroke="#000" stroke-width="0.15" textLength="54" lengthAdjust="spacingAndGlyphs" >18 May 2021</text>
<text x="68" y="833.5" font-size="9.6" fill="#000" font-family="'Liberation Sans', Arial, sans-serif" stroke="#000" stroke-width="0.15" textLength="57" lengthAdjust="spacingAndGlyphs" >20 May 00:00</text>
<text x="132" y="833.5" font-size="9.6" fill="#000" font-family="'Liberation Sans', Arial, sans-serif" stroke="#000" stroke-width="0.15" textLength="57" lengthAdjust="spacingAndGlyphs" >21 May 08:00</text>
<text x="196" y="833.5" font-size="9.6" fill="#000" font-family="'Liberation Sans', Arial, sans-serif" stroke="#000" stroke-width="0.15" textLength="57" lengthAdjust="spacingAndGlyphs" >24 May 12:00</text>
<text x="260" y="833.5" font-size="9.6" fill="#000" font-family="'Liberation Sans', Arial, sans-serif" stroke="#000" stroke-width="0.15" textLength="57" lengthAdjust="spacingAndGlyphs" >26 May 00:00</text>
<text x="324" y="833.5" font-size="9.6" fill="#000" font-family="'Liberation Sans', Arial, sans-serif" stroke="#000" stroke-width="0.15" textLength="57" lengthAdjust="spacingAndGlyphs" >27 May 08:00</text>
<text x="388" y="833.5" font-size="9.6" fill="#000" font-family="'Liberation Sans', Arial, sans-serif" stroke="#000" stroke-width="0.15" textLength="57" lengthAdjust="spacingAndGlyphs" >28 May 16:00</text>
<text x="452" y="833.5" font-size="9.6" fill="#000" font-family="'Liberation Sans', Arial, sans-serif" stroke="#000" stroke-width="0.15" textLength="48" lengthAdjust="spacingAndGlyphs" >1 Jun 00:00</text>
<text x="516" y="833.5" font-size="9.6" fill="#000" font-family="'Liberation Sans', Arial, sans-serif" stroke="#000" stroke-width="0.15" textLength="48" lengthAdjust="spacingAndGlyphs" >2 Jun 08:00</text>
<text x="580" y="833.5" font-size="9.6" fill="#000" font-family="'Liberation Sans', Arial, sans-serif" stroke="#000" stroke-width="0.15" textLength="48" lengthAdjust="spacingAndGlyphs" >3 Jun 16:00</text>
<text x="644" y="833.5" font-size="9.6" fill="#000" font-family="'Liberation Sans', Arial, sans-serif" stroke="#000" stroke-width="0.15" textLength="48" lengthAdjust="spacingAndGlyphs" >6 Jun 23:00</text>
<text x="708" y="833.5" font-size="9.6" fill="#000" font-family="'Liberation Sans', Arial, sans-serif" stroke="#000" stroke-width="0.15" textLength="48" lengthAdjust="spacingAndGlyphs" >8 Jun 04:00</text>
<text x="772" y="833.5" font-size="9.6" fill="#000" font-family="'Liberation Sans', Arial, sans-serif" stroke="#000" stroke-width="0.15" textLength="48" lengthAdjust="spacingAndGlyphs" >9 Jun 12:00</text>
<text x="836" y="833.5" font-size="9.6" fill="#000" font-family="'Liberation Sans', Arial, sans-serif" stroke="#000" stroke-width="0.15" textLength="53" lengthAdjust="spacingAndGlyphs" >10 Jun 20:00</text>
<text x="900" y="833.5" font-size="9.6" fill="#000" font-family="'Liberation Sans', Arial, sans-serif" stroke="#000" stroke-width="0.15" textLength="53" lengthAdjust="spacingAndGlyphs" >14 Jun 00:00</text>
<text x="964" y="833.5" font-size="9.6" fill="#000" font-family="'Liberation Sans', Arial, sans-serif" stroke="#000" stroke-width="0.15" textLength="53" lengthAdjust="spacingAndGlyphs" >15 Jun 08:00</text>
<text x="1028" y="833.5" font-size="9.6" fill="#000" font-family="'Liberation Sans', Arial, sans-serif" stroke="#000" stroke-width="0.15" textLength="53" lengthAdjust="spacingAndGlyphs" >16 Jun 16:00</text>
<text x="1092" y="833.5" font-size="9.6" fill="#000" font-family="'Liberation Sans', Arial, sans-serif" stroke="#000" stroke-width="0.15" textLength="53" lengthAdjust="spacingAndGlyphs" >18 Jun 00:00</text>
<text x="1156" y="833.5" font-size="9.6" fill="#000" font-family="'Liberation Sans', Arial, sans-serif" stroke="#000" stroke-width="0.15" textLength="53" lengthAdjust="spacingAndGlyphs" >21 Jun 04:00</text>
<text x="1220" y="833.5" font-size="9.6" fill="#000" font-family="'Liberation Sans', Arial, sans-serif" stroke="#000" stroke-width="0.15" textLength="53" lengthAdjust="spacingAndGlyphs" >22 Jun 12:00</text>
<text x="1284" y="833.5" font-size="9.6" fill="#000" font-family="'Liberation Sans', Arial, sans-serif" stroke="#000" stroke-width="0.15" textLength="53" lengthAdjust="spacingAndGlyphs" >23 Jun 20:00</text>
<text x="1348" y="833.5" font-size="9.6" fill="#000" font-family="'Liberation Sans', Arial, sans-serif" stroke="#000" stroke-width="0.15" textLength="53" lengthAdjust="spacingAndGlyphs" >25 Jun 08:00</text>
<text x="1412" y="833.5" font-size="9.6" fill="#000" font-family="'Liberation Sans', Arial, sans-serif" stroke="#000" stroke-width="0.15" textLength="53" lengthAdjust="spacingAndGlyphs" >28 Jun 12:00</text>
<text x="1476" y="833.5" font-size="9.6" fill="#000" font-family="'Liberation Sans', Arial, sans-serif" stroke="#000" stroke-width="0.15" textLength="53" lengthAdjust="spacingAndGlyphs" >29 Jun 20:00</text>
<text x="1540" y="833.5" font-size="9.6" fill="#000" font-family="'Liberation Sans', Arial, sans-serif" stroke="#000" stroke-width="0.15" textLength="45" lengthAdjust="spacingAndGlyphs" >1 Jul 04:00</text>
<text x="1604" y="833.5" font-size="9.6" fill="#000" font-family="'Liberation Sans', Arial, sans-serif" stroke="#000" stroke-width="0.15" textLength="45" lengthAdjust="spacingAndGlyphs" >2 Jul 12:00</text>
<text x="1668" y="833.5" font-size="9.6" fill="#000" font-family="'Liberation Sans', Arial, sans-serif" stroke="#000" stroke-width="0.15" textLength="45" lengthAdjust="spacingAndGlyphs" >5 Jul 16:00</text>
</svg></body></html>
